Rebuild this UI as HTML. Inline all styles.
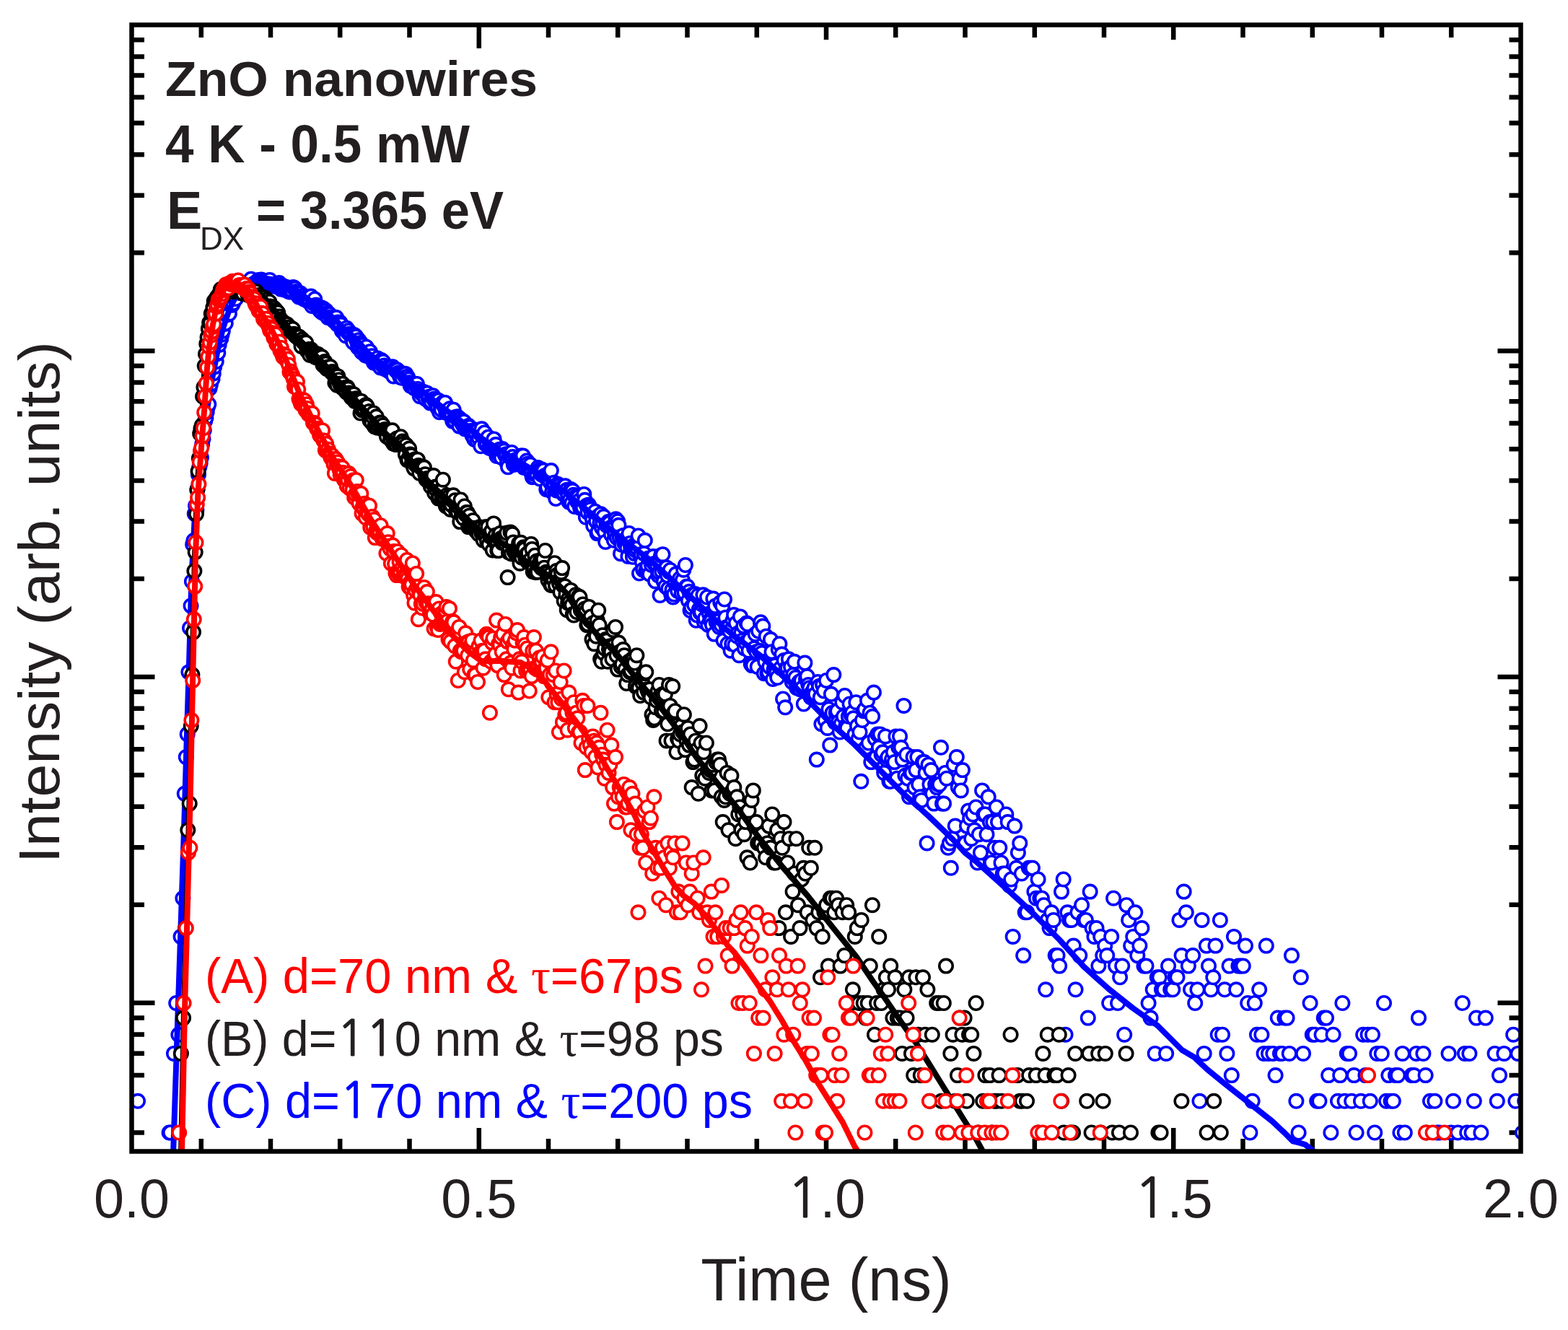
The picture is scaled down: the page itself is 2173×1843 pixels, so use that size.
<!DOCTYPE html><html><head><meta charset="utf-8"><title>ZnO nanowires decay</title><style>html,body{margin:0;padding:0;background:#fff;overflow:hidden}svg{display:block}</style></head><body><svg xmlns="http://www.w3.org/2000/svg" width="2173" height="1843" viewBox="0 0 2173 1843"><rect width="2173" height="1843" fill="#fff"/><path d="M278.8 1595.5V1578M278.8 34.5V52M375.0 1595.5V1578M375.0 34.5V52M471.2 1595.5V1578M471.2 34.5V52M567.5 1595.5V1578M567.5 34.5V52M663.8 1595.5V1563M663.8 34.5V67M760.0 1595.5V1578M760.0 34.5V52M856.2 1595.5V1578M856.2 34.5V52M952.5 1595.5V1578M952.5 34.5V52M1048.8 1595.5V1578M1048.8 34.5V52M1145.0 1595.5V1578M1145.0 34.5V55M1241.2 1595.5V1578M1241.2 34.5V52M1337.5 1595.5V1578M1337.5 34.5V52M1433.8 1595.5V1578M1433.8 34.5V52M1530.0 1595.5V1578M1530.0 34.5V52M1626.2 1595.5V1563M1626.2 34.5V55M1722.5 1595.5V1578M1722.5 34.5V52M1818.8 1595.5V1578M1818.8 34.5V52M1915.0 1595.5V1578M1915.0 34.5V52M2011.2 1595.5V1578M2011.2 34.5V52M182.5 486.3H214.5M2107.5 486.3H2075.5M182.5 350.3H200M2107.5 350.3H2091.5M182.5 270.8H200M2107.5 270.8H2091.5M182.5 214.3H200M2107.5 214.3H2091.5M182.5 170.6H200M2107.5 170.6H2091.5M182.5 134.8H200M2107.5 134.8H2091.5M182.5 104.6H200M2107.5 104.6H2091.5M182.5 78.4H200M2107.5 78.4H2091.5M182.5 55.3H200M2107.5 55.3H2091.5M182.5 938.0H214.5M2107.5 938.0H2075.5M182.5 802.0H200M2107.5 802.0H2091.5M182.5 722.5H200M2107.5 722.5H2091.5M182.5 666.0H200M2107.5 666.0H2091.5M182.5 622.3H200M2107.5 622.3H2091.5M182.5 586.5H200M2107.5 586.5H2091.5M182.5 556.3H200M2107.5 556.3H2091.5M182.5 530.1H200M2107.5 530.1H2091.5M182.5 507.0H200M2107.5 507.0H2091.5M182.5 1389.7H214.5M2107.5 1389.7H2075.5M182.5 1253.7H200M2107.5 1253.7H2091.5M182.5 1174.2H200M2107.5 1174.2H2091.5M182.5 1117.7H200M2107.5 1117.7H2091.5M182.5 1074.0H200M2107.5 1074.0H2091.5M182.5 1038.2H200M2107.5 1038.2H2091.5M182.5 1008.0H200M2107.5 1008.0H2091.5M182.5 981.8H200M2107.5 981.8H2091.5M182.5 958.7H200M2107.5 958.7H2091.5M182.5 1569.4H200M2107.5 1569.4H2091.5M182.5 1525.7H200M2107.5 1525.7H2091.5M182.5 1489.9H200M2107.5 1489.9H2091.5M182.5 1459.7H200M2107.5 1459.7H2091.5M182.5 1433.5H200M2107.5 1433.5H2091.5M182.5 1410.4H200M2107.5 1410.4H2091.5" stroke="#000" stroke-width="6.5" fill="none"/><clipPath id="pc"><rect x="182.5" y="34.5" width="1925" height="1561"/></clipPath><g clip-path="url(#pc)"><g fill="#fff" stroke="#0000ff" stroke-width="3.6"><circle cx="191.0" cy="1525.8" r="9.2"/><circle cx="234.6" cy="1569.5" r="9.2"/><circle cx="236.0" cy="1569.5" r="9.2"/><circle cx="241.0" cy="1459.9" r="9.2"/><circle cx="244.2" cy="1390.0" r="9.2"/><circle cx="247.4" cy="1433.7" r="9.2"/><circle cx="250.6" cy="1297.9" r="9.2"/><circle cx="253.4" cy="1244.7" r="9.2"/><circle cx="255.8" cy="1099.8" r="9.2"/><circle cx="257.8" cy="1049.1" r="9.2"/><circle cx="259.7" cy="1017.4" r="9.2"/><circle cx="261.4" cy="931.3" r="9.2"/><circle cx="263.0" cy="870.3" r="9.2"/><circle cx="264.5" cy="839.5" r="9.2"/><circle cx="265.9" cy="805.8" r="9.2"/><circle cx="267.2" cy="754.4" r="9.2"/><circle cx="268.5" cy="749.1" r="9.2"/><circle cx="269.8" cy="711.9" r="9.2"/><circle cx="271.1" cy="700.8" r="9.2"/><circle cx="272.4" cy="706.5" r="9.2"/><circle cx="273.7" cy="677.6" r="9.2"/><circle cx="275.0" cy="657.8" r="9.2"/><circle cx="276.3" cy="647.2" r="9.2"/><circle cx="277.6" cy="642.0" r="9.2"/><circle cx="278.9" cy="634.1" r="9.2"/><circle cx="280.2" cy="615.6" r="9.2"/><circle cx="281.5" cy="608.2" r="9.2"/><circle cx="282.8" cy="596.3" r="9.2"/><circle cx="284.1" cy="583.4" r="9.2"/><circle cx="285.4" cy="579.3" r="9.2"/><circle cx="286.7" cy="571.1" r="9.2"/><circle cx="288.0" cy="563.4" r="9.2"/><circle cx="289.3" cy="560.2" r="9.2"/><circle cx="290.6" cy="538.3" r="9.2"/><circle cx="291.9" cy="532.7" r="9.2"/><circle cx="293.2" cy="525.4" r="9.2"/><circle cx="294.5" cy="525.3" r="9.2"/><circle cx="295.8" cy="517.5" r="9.2"/><circle cx="297.1" cy="508.4" r="9.2"/><circle cx="298.4" cy="501.3" r="9.2"/><circle cx="299.7" cy="501.0" r="9.2"/><circle cx="301.0" cy="490.3" r="9.2"/><circle cx="302.3" cy="489.1" r="9.2"/><circle cx="303.6" cy="478.0" r="9.2"/><circle cx="304.9" cy="471.0" r="9.2"/><circle cx="306.2" cy="469.5" r="9.2"/><circle cx="307.5" cy="463.6" r="9.2"/><circle cx="308.8" cy="458.6" r="9.2"/><circle cx="310.1" cy="446.0" r="9.2"/><circle cx="311.4" cy="448.9" r="9.2"/><circle cx="312.7" cy="448.0" r="9.2"/><circle cx="314.0" cy="436.3" r="9.2"/><circle cx="315.3" cy="435.9" r="9.2"/><circle cx="316.6" cy="432.4" r="9.2"/><circle cx="317.9" cy="434.6" r="9.2"/><circle cx="319.2" cy="422.3" r="9.2"/><circle cx="320.5" cy="421.8" r="9.2"/><circle cx="321.8" cy="422.8" r="9.2"/><circle cx="323.1" cy="419.9" r="9.2"/><circle cx="324.4" cy="413.5" r="9.2"/><circle cx="325.7" cy="410.8" r="9.2"/><circle cx="327.0" cy="414.0" r="9.2"/><circle cx="328.3" cy="404.7" r="9.2"/><circle cx="329.6" cy="398.2" r="9.2"/><circle cx="330.9" cy="405.8" r="9.2"/><circle cx="332.2" cy="402.2" r="9.2"/><circle cx="333.5" cy="401.6" r="9.2"/><circle cx="334.8" cy="400.7" r="9.2"/><circle cx="336.1" cy="400.9" r="9.2"/><circle cx="337.4" cy="402.0" r="9.2"/><circle cx="338.7" cy="398.9" r="9.2"/><circle cx="340.0" cy="399.2" r="9.2"/><circle cx="341.3" cy="398.0" r="9.2"/><circle cx="342.6" cy="396.4" r="9.2"/><circle cx="343.9" cy="397.6" r="9.2"/><circle cx="345.2" cy="394.1" r="9.2"/><circle cx="346.5" cy="391.1" r="9.2"/><circle cx="347.8" cy="386.7" r="9.2"/><circle cx="349.1" cy="397.4" r="9.2"/><circle cx="350.4" cy="394.1" r="9.2"/><circle cx="351.7" cy="394.0" r="9.2"/><circle cx="353.0" cy="395.9" r="9.2"/><circle cx="354.3" cy="391.3" r="9.2"/><circle cx="355.6" cy="392.8" r="9.2"/><circle cx="356.9" cy="391.6" r="9.2"/><circle cx="358.2" cy="388.1" r="9.2"/><circle cx="359.5" cy="391.2" r="9.2"/><circle cx="360.8" cy="390.4" r="9.2"/><circle cx="362.1" cy="387.4" r="9.2"/><circle cx="363.4" cy="390.2" r="9.2"/><circle cx="364.7" cy="393.9" r="9.2"/><circle cx="366.0" cy="389.9" r="9.2"/><circle cx="367.3" cy="392.1" r="9.2"/><circle cx="368.6" cy="390.6" r="9.2"/><circle cx="369.9" cy="391.0" r="9.2"/><circle cx="371.2" cy="390.8" r="9.2"/><circle cx="372.5" cy="393.8" r="9.2"/><circle cx="373.8" cy="388.0" r="9.2"/><circle cx="375.1" cy="396.1" r="9.2"/><circle cx="376.4" cy="395.3" r="9.2"/><circle cx="377.7" cy="396.1" r="9.2"/><circle cx="379.0" cy="394.0" r="9.2"/><circle cx="380.3" cy="396.8" r="9.2"/><circle cx="381.6" cy="395.0" r="9.2"/><circle cx="382.9" cy="395.2" r="9.2"/><circle cx="384.2" cy="395.1" r="9.2"/><circle cx="385.5" cy="395.9" r="9.2"/><circle cx="386.8" cy="392.1" r="9.2"/><circle cx="388.1" cy="395.5" r="9.2"/><circle cx="389.4" cy="400.6" r="9.2"/><circle cx="390.7" cy="397.4" r="9.2"/><circle cx="392.0" cy="397.9" r="9.2"/><circle cx="393.3" cy="396.6" r="9.2"/><circle cx="394.6" cy="401.6" r="9.2"/><circle cx="395.9" cy="399.8" r="9.2"/><circle cx="397.2" cy="398.1" r="9.2"/><circle cx="398.5" cy="399.1" r="9.2"/><circle cx="399.8" cy="403.9" r="9.2"/><circle cx="401.1" cy="400.4" r="9.2"/><circle cx="402.4" cy="404.6" r="9.2"/><circle cx="403.7" cy="403.4" r="9.2"/><circle cx="405.0" cy="403.3" r="9.2"/><circle cx="406.3" cy="398.1" r="9.2"/><circle cx="407.6" cy="398.7" r="9.2"/><circle cx="408.9" cy="399.8" r="9.2"/><circle cx="410.2" cy="404.0" r="9.2"/><circle cx="411.5" cy="407.1" r="9.2"/><circle cx="412.8" cy="406.3" r="9.2"/><circle cx="414.1" cy="411.4" r="9.2"/><circle cx="415.4" cy="407.9" r="9.2"/><circle cx="416.7" cy="406.5" r="9.2"/><circle cx="418.0" cy="412.5" r="9.2"/><circle cx="419.3" cy="409.8" r="9.2"/><circle cx="420.6" cy="414.0" r="9.2"/><circle cx="421.9" cy="414.6" r="9.2"/><circle cx="423.2" cy="412.5" r="9.2"/><circle cx="424.5" cy="412.3" r="9.2"/><circle cx="425.8" cy="416.2" r="9.2"/><circle cx="427.1" cy="417.6" r="9.2"/><circle cx="428.4" cy="414.1" r="9.2"/><circle cx="429.7" cy="418.1" r="9.2"/><circle cx="431.0" cy="410.6" r="9.2"/><circle cx="432.3" cy="424.0" r="9.2"/><circle cx="433.6" cy="419.7" r="9.2"/><circle cx="434.9" cy="419.5" r="9.2"/><circle cx="436.2" cy="414.5" r="9.2"/><circle cx="437.5" cy="422.7" r="9.2"/><circle cx="438.8" cy="422.8" r="9.2"/><circle cx="440.1" cy="424.2" r="9.2"/><circle cx="441.4" cy="425.4" r="9.2"/><circle cx="442.7" cy="429.4" r="9.2"/><circle cx="444.0" cy="431.3" r="9.2"/><circle cx="445.3" cy="426.3" r="9.2"/><circle cx="446.6" cy="433.3" r="9.2"/><circle cx="447.9" cy="427.5" r="9.2"/><circle cx="449.2" cy="428.6" r="9.2"/><circle cx="450.5" cy="435.1" r="9.2"/><circle cx="451.8" cy="430.4" r="9.2"/><circle cx="453.1" cy="433.7" r="9.2"/><circle cx="454.4" cy="439.9" r="9.2"/><circle cx="455.7" cy="435.0" r="9.2"/><circle cx="457.0" cy="435.7" r="9.2"/><circle cx="458.3" cy="439.6" r="9.2"/><circle cx="459.6" cy="440.8" r="9.2"/><circle cx="460.9" cy="441.8" r="9.2"/><circle cx="462.2" cy="444.3" r="9.2"/><circle cx="463.5" cy="439.9" r="9.2"/><circle cx="464.8" cy="444.5" r="9.2"/><circle cx="466.1" cy="440.1" r="9.2"/><circle cx="467.4" cy="449.4" r="9.2"/><circle cx="468.7" cy="446.5" r="9.2"/><circle cx="470.0" cy="447.8" r="9.2"/><circle cx="471.3" cy="446.8" r="9.2"/><circle cx="472.6" cy="449.9" r="9.2"/><circle cx="473.9" cy="458.7" r="9.2"/><circle cx="475.2" cy="458.3" r="9.2"/><circle cx="476.5" cy="456.4" r="9.2"/><circle cx="477.8" cy="456.9" r="9.2"/><circle cx="479.1" cy="465.2" r="9.2"/><circle cx="480.4" cy="454.7" r="9.2"/><circle cx="481.7" cy="460.3" r="9.2"/><circle cx="483.0" cy="458.3" r="9.2"/><circle cx="484.3" cy="462.8" r="9.2"/><circle cx="485.6" cy="463.8" r="9.2"/><circle cx="486.9" cy="463.0" r="9.2"/><circle cx="488.2" cy="472.1" r="9.2"/><circle cx="489.5" cy="474.4" r="9.2"/><circle cx="490.8" cy="463.9" r="9.2"/><circle cx="492.1" cy="467.5" r="9.2"/><circle cx="493.4" cy="466.3" r="9.2"/><circle cx="494.7" cy="473.0" r="9.2"/><circle cx="496.0" cy="481.4" r="9.2"/><circle cx="497.3" cy="471.2" r="9.2"/><circle cx="498.6" cy="479.9" r="9.2"/><circle cx="499.9" cy="475.1" r="9.2"/><circle cx="501.2" cy="487.9" r="9.2"/><circle cx="502.5" cy="478.1" r="9.2"/><circle cx="503.8" cy="484.9" r="9.2"/><circle cx="505.1" cy="485.6" r="9.2"/><circle cx="506.4" cy="492.4" r="9.2"/><circle cx="507.7" cy="480.7" r="9.2"/><circle cx="509.0" cy="489.9" r="9.2"/><circle cx="510.3" cy="493.9" r="9.2"/><circle cx="511.6" cy="492.9" r="9.2"/><circle cx="512.9" cy="487.2" r="9.2"/><circle cx="514.2" cy="493.7" r="9.2"/><circle cx="515.5" cy="493.3" r="9.2"/><circle cx="516.8" cy="499.6" r="9.2"/><circle cx="518.1" cy="502.7" r="9.2"/><circle cx="519.4" cy="501.5" r="9.2"/><circle cx="520.7" cy="498.6" r="9.2"/><circle cx="522.0" cy="499.5" r="9.2"/><circle cx="523.3" cy="496.5" r="9.2"/><circle cx="524.6" cy="502.4" r="9.2"/><circle cx="525.9" cy="504.5" r="9.2"/><circle cx="527.2" cy="509.5" r="9.2"/><circle cx="528.5" cy="499.1" r="9.2"/><circle cx="529.8" cy="506.2" r="9.2"/><circle cx="531.1" cy="501.2" r="9.2"/><circle cx="532.4" cy="506.6" r="9.2"/><circle cx="533.7" cy="511.5" r="9.2"/><circle cx="535.0" cy="511.4" r="9.2"/><circle cx="536.3" cy="510.8" r="9.2"/><circle cx="537.6" cy="508.7" r="9.2"/><circle cx="538.9" cy="514.5" r="9.2"/><circle cx="540.2" cy="511.6" r="9.2"/><circle cx="541.5" cy="508.9" r="9.2"/><circle cx="542.8" cy="512.7" r="9.2"/><circle cx="544.1" cy="508.2" r="9.2"/><circle cx="545.4" cy="521.4" r="9.2"/><circle cx="546.7" cy="510.7" r="9.2"/><circle cx="548.0" cy="512.8" r="9.2"/><circle cx="549.3" cy="513.0" r="9.2"/><circle cx="550.6" cy="512.6" r="9.2"/><circle cx="551.9" cy="516.7" r="9.2"/><circle cx="553.2" cy="519.0" r="9.2"/><circle cx="554.5" cy="522.6" r="9.2"/><circle cx="555.8" cy="518.1" r="9.2"/><circle cx="557.1" cy="523.7" r="9.2"/><circle cx="558.4" cy="517.5" r="9.2"/><circle cx="559.7" cy="517.7" r="9.2"/><circle cx="561.0" cy="521.4" r="9.2"/><circle cx="562.3" cy="518.1" r="9.2"/><circle cx="563.6" cy="521.9" r="9.2"/><circle cx="564.9" cy="522.3" r="9.2"/><circle cx="566.2" cy="525.7" r="9.2"/><circle cx="567.5" cy="530.3" r="9.2"/><circle cx="568.8" cy="534.6" r="9.2"/><circle cx="570.1" cy="531.8" r="9.2"/><circle cx="571.4" cy="531.4" r="9.2"/><circle cx="572.7" cy="532.3" r="9.2"/><circle cx="574.0" cy="537.9" r="9.2"/><circle cx="575.3" cy="531.9" r="9.2"/><circle cx="576.6" cy="535.1" r="9.2"/><circle cx="577.9" cy="532.0" r="9.2"/><circle cx="579.2" cy="538.9" r="9.2"/><circle cx="580.5" cy="542.5" r="9.2"/><circle cx="581.8" cy="549.2" r="9.2"/><circle cx="583.1" cy="544.5" r="9.2"/><circle cx="584.4" cy="545.3" r="9.2"/><circle cx="585.7" cy="543.1" r="9.2"/><circle cx="587.0" cy="542.9" r="9.2"/><circle cx="588.3" cy="544.4" r="9.2"/><circle cx="589.6" cy="552.6" r="9.2"/><circle cx="590.9" cy="544.5" r="9.2"/><circle cx="592.2" cy="545.0" r="9.2"/><circle cx="593.5" cy="551.4" r="9.2"/><circle cx="594.8" cy="549.8" r="9.2"/><circle cx="596.1" cy="558.5" r="9.2"/><circle cx="597.4" cy="556.5" r="9.2"/><circle cx="598.7" cy="550.5" r="9.2"/><circle cx="600.0" cy="548.3" r="9.2"/><circle cx="601.3" cy="552.8" r="9.2"/><circle cx="602.6" cy="555.9" r="9.2"/><circle cx="603.9" cy="555.9" r="9.2"/><circle cx="605.2" cy="553.7" r="9.2"/><circle cx="606.5" cy="565.8" r="9.2"/><circle cx="607.8" cy="554.9" r="9.2"/><circle cx="609.1" cy="571.2" r="9.2"/><circle cx="610.4" cy="563.0" r="9.2"/><circle cx="611.7" cy="567.9" r="9.2"/><circle cx="613.0" cy="558.5" r="9.2"/><circle cx="614.3" cy="557.7" r="9.2"/><circle cx="615.6" cy="563.1" r="9.2"/><circle cx="616.9" cy="557.9" r="9.2"/><circle cx="618.2" cy="571.8" r="9.2"/><circle cx="619.5" cy="569.2" r="9.2"/><circle cx="620.8" cy="573.0" r="9.2"/><circle cx="622.1" cy="571.2" r="9.2"/><circle cx="623.4" cy="566.3" r="9.2"/><circle cx="624.7" cy="575.6" r="9.2"/><circle cx="626.0" cy="574.3" r="9.2"/><circle cx="627.3" cy="583.6" r="9.2"/><circle cx="628.6" cy="567.7" r="9.2"/><circle cx="629.9" cy="582.9" r="9.2"/><circle cx="631.2" cy="577.9" r="9.2"/><circle cx="632.5" cy="578.4" r="9.2"/><circle cx="633.8" cy="577.2" r="9.2"/><circle cx="635.1" cy="579.3" r="9.2"/><circle cx="636.4" cy="590.6" r="9.2"/><circle cx="637.7" cy="580.6" r="9.2"/><circle cx="639.0" cy="584.7" r="9.2"/><circle cx="640.3" cy="583.1" r="9.2"/><circle cx="641.6" cy="589.1" r="9.2"/><circle cx="642.9" cy="584.3" r="9.2"/><circle cx="644.2" cy="594.1" r="9.2"/><circle cx="645.5" cy="594.8" r="9.2"/><circle cx="646.8" cy="592.9" r="9.2"/><circle cx="648.1" cy="594.6" r="9.2"/><circle cx="649.4" cy="590.1" r="9.2"/><circle cx="650.7" cy="592.0" r="9.2"/><circle cx="652.0" cy="596.9" r="9.2"/><circle cx="653.3" cy="597.8" r="9.2"/><circle cx="654.6" cy="603.7" r="9.2"/><circle cx="655.9" cy="599.2" r="9.2"/><circle cx="657.2" cy="608.7" r="9.2"/><circle cx="658.5" cy="595.4" r="9.2"/><circle cx="659.8" cy="601.5" r="9.2"/><circle cx="661.1" cy="610.5" r="9.2"/><circle cx="662.4" cy="596.1" r="9.2"/><circle cx="663.7" cy="607.3" r="9.2"/><circle cx="665.0" cy="600.4" r="9.2"/><circle cx="666.3" cy="618.3" r="9.2"/><circle cx="667.6" cy="594.3" r="9.2"/><circle cx="668.9" cy="603.4" r="9.2"/><circle cx="670.2" cy="602.0" r="9.2"/><circle cx="671.5" cy="599.5" r="9.2"/><circle cx="672.8" cy="615.2" r="9.2"/><circle cx="674.1" cy="613.0" r="9.2"/><circle cx="675.4" cy="607.3" r="9.2"/><circle cx="676.7" cy="605.7" r="9.2"/><circle cx="678.0" cy="620.7" r="9.2"/><circle cx="679.3" cy="619.2" r="9.2"/><circle cx="680.6" cy="621.5" r="9.2"/><circle cx="681.9" cy="618.3" r="9.2"/><circle cx="683.2" cy="616.0" r="9.2"/><circle cx="684.5" cy="608.4" r="9.2"/><circle cx="685.8" cy="620.1" r="9.2"/><circle cx="687.1" cy="616.1" r="9.2"/><circle cx="688.4" cy="631.9" r="9.2"/><circle cx="689.7" cy="628.1" r="9.2"/><circle cx="691.0" cy="624.4" r="9.2"/><circle cx="692.3" cy="622.8" r="9.2"/><circle cx="693.6" cy="626.8" r="9.2"/><circle cx="694.9" cy="633.9" r="9.2"/><circle cx="696.2" cy="622.0" r="9.2"/><circle cx="697.5" cy="626.2" r="9.2"/><circle cx="698.8" cy="624.6" r="9.2"/><circle cx="700.1" cy="630.8" r="9.2"/><circle cx="701.4" cy="629.2" r="9.2"/><circle cx="702.7" cy="642.2" r="9.2"/><circle cx="704.0" cy="647.3" r="9.2"/><circle cx="705.3" cy="632.1" r="9.2"/><circle cx="706.6" cy="630.7" r="9.2"/><circle cx="707.9" cy="628.5" r="9.2"/><circle cx="709.2" cy="627.0" r="9.2"/><circle cx="710.5" cy="633.1" r="9.2"/><circle cx="711.8" cy="643.9" r="9.2"/><circle cx="713.1" cy="641.8" r="9.2"/><circle cx="714.4" cy="637.3" r="9.2"/><circle cx="715.7" cy="638.2" r="9.2"/><circle cx="717.0" cy="642.3" r="9.2"/><circle cx="718.3" cy="642.8" r="9.2"/><circle cx="719.6" cy="641.6" r="9.2"/><circle cx="720.9" cy="639.7" r="9.2"/><circle cx="722.2" cy="631.5" r="9.2"/><circle cx="723.5" cy="644.7" r="9.2"/><circle cx="724.8" cy="631.6" r="9.2"/><circle cx="726.1" cy="648.0" r="9.2"/><circle cx="727.4" cy="646.0" r="9.2"/><circle cx="728.7" cy="642.3" r="9.2"/><circle cx="730.0" cy="638.6" r="9.2"/><circle cx="731.3" cy="642.7" r="9.2"/><circle cx="732.6" cy="648.8" r="9.2"/><circle cx="733.9" cy="647.5" r="9.2"/><circle cx="735.2" cy="644.0" r="9.2"/><circle cx="736.5" cy="656.0" r="9.2"/><circle cx="737.8" cy="661.2" r="9.2"/><circle cx="739.1" cy="660.5" r="9.2"/><circle cx="740.4" cy="656.7" r="9.2"/><circle cx="741.7" cy="656.6" r="9.2"/><circle cx="743.0" cy="656.2" r="9.2"/><circle cx="744.3" cy="658.1" r="9.2"/><circle cx="745.6" cy="648.1" r="9.2"/><circle cx="746.9" cy="651.5" r="9.2"/><circle cx="748.2" cy="663.5" r="9.2"/><circle cx="749.5" cy="656.6" r="9.2"/><circle cx="750.8" cy="650.6" r="9.2"/><circle cx="752.1" cy="658.4" r="9.2"/><circle cx="753.4" cy="652.0" r="9.2"/><circle cx="754.7" cy="659.3" r="9.2"/><circle cx="756.0" cy="659.5" r="9.2"/><circle cx="757.3" cy="678.2" r="9.2"/><circle cx="758.6" cy="675.4" r="9.2"/><circle cx="759.9" cy="660.2" r="9.2"/><circle cx="761.2" cy="655.3" r="9.2"/><circle cx="762.5" cy="668.5" r="9.2"/><circle cx="763.8" cy="652.1" r="9.2"/><circle cx="765.1" cy="681.8" r="9.2"/><circle cx="766.4" cy="670.4" r="9.2"/><circle cx="767.7" cy="668.8" r="9.2"/><circle cx="769.0" cy="682.3" r="9.2"/><circle cx="770.3" cy="691.0" r="9.2"/><circle cx="771.6" cy="679.7" r="9.2"/><circle cx="772.9" cy="670.8" r="9.2"/><circle cx="774.2" cy="677.9" r="9.2"/><circle cx="775.5" cy="673.1" r="9.2"/><circle cx="776.8" cy="677.9" r="9.2"/><circle cx="778.1" cy="675.9" r="9.2"/><circle cx="779.4" cy="680.0" r="9.2"/><circle cx="780.7" cy="684.6" r="9.2"/><circle cx="782.0" cy="684.1" r="9.2"/><circle cx="783.3" cy="673.3" r="9.2"/><circle cx="784.6" cy="679.8" r="9.2"/><circle cx="785.9" cy="678.8" r="9.2"/><circle cx="787.2" cy="687.1" r="9.2"/><circle cx="788.5" cy="695.8" r="9.2"/><circle cx="789.8" cy="692.2" r="9.2"/><circle cx="791.1" cy="678.1" r="9.2"/><circle cx="792.4" cy="697.1" r="9.2"/><circle cx="793.7" cy="680.1" r="9.2"/><circle cx="795.0" cy="685.7" r="9.2"/><circle cx="796.3" cy="701.9" r="9.2"/><circle cx="797.6" cy="688.6" r="9.2"/><circle cx="798.9" cy="692.7" r="9.2"/><circle cx="800.2" cy="695.5" r="9.2"/><circle cx="801.5" cy="688.8" r="9.2"/><circle cx="802.8" cy="693.8" r="9.2"/><circle cx="804.1" cy="703.9" r="9.2"/><circle cx="805.4" cy="702.7" r="9.2"/><circle cx="806.7" cy="702.5" r="9.2"/><circle cx="808.0" cy="703.2" r="9.2"/><circle cx="809.3" cy="684.9" r="9.2"/><circle cx="810.6" cy="692.8" r="9.2"/><circle cx="811.9" cy="716.8" r="9.2"/><circle cx="813.2" cy="700.4" r="9.2"/><circle cx="814.5" cy="710.0" r="9.2"/><circle cx="815.8" cy="699.4" r="9.2"/><circle cx="817.1" cy="702.4" r="9.2"/><circle cx="818.4" cy="705.8" r="9.2"/><circle cx="819.7" cy="713.8" r="9.2"/><circle cx="821.0" cy="720.1" r="9.2"/><circle cx="822.3" cy="728.7" r="9.2"/><circle cx="823.6" cy="711.5" r="9.2"/><circle cx="824.9" cy="708.7" r="9.2"/><circle cx="826.2" cy="722.5" r="9.2"/><circle cx="827.5" cy="739.1" r="9.2"/><circle cx="828.8" cy="737.1" r="9.2"/><circle cx="830.1" cy="714.4" r="9.2"/><circle cx="831.4" cy="725.0" r="9.2"/><circle cx="832.7" cy="712.3" r="9.2"/><circle cx="834.0" cy="731.4" r="9.2"/><circle cx="835.3" cy="724.5" r="9.2"/><circle cx="836.6" cy="715.8" r="9.2"/><circle cx="837.9" cy="737.1" r="9.2"/><circle cx="839.2" cy="751.0" r="9.2"/><circle cx="840.5" cy="728.0" r="9.2"/><circle cx="841.8" cy="727.1" r="9.2"/><circle cx="843.1" cy="723.0" r="9.2"/><circle cx="844.4" cy="724.7" r="9.2"/><circle cx="845.7" cy="731.5" r="9.2"/><circle cx="847.0" cy="740.9" r="9.2"/><circle cx="848.3" cy="730.2" r="9.2"/><circle cx="849.6" cy="733.2" r="9.2"/><circle cx="850.9" cy="748.8" r="9.2"/><circle cx="852.2" cy="740.5" r="9.2"/><circle cx="853.5" cy="719.3" r="9.2"/><circle cx="854.8" cy="745.1" r="9.2"/><circle cx="856.1" cy="722.2" r="9.2"/><circle cx="857.4" cy="727.8" r="9.2"/><circle cx="858.7" cy="744.3" r="9.2"/><circle cx="860.0" cy="767.2" r="9.2"/><circle cx="861.3" cy="754.7" r="9.2"/><circle cx="862.6" cy="743.6" r="9.2"/><circle cx="863.9" cy="741.9" r="9.2"/><circle cx="865.2" cy="752.7" r="9.2"/><circle cx="866.5" cy="749.0" r="9.2"/><circle cx="867.8" cy="746.6" r="9.2"/><circle cx="869.1" cy="759.0" r="9.2"/><circle cx="870.4" cy="770.9" r="9.2"/><circle cx="871.7" cy="739.0" r="9.2"/><circle cx="873.0" cy="752.9" r="9.2"/><circle cx="874.3" cy="761.0" r="9.2"/><circle cx="875.6" cy="758.5" r="9.2"/><circle cx="876.9" cy="771.8" r="9.2"/><circle cx="878.2" cy="756.1" r="9.2"/><circle cx="879.5" cy="767.1" r="9.2"/><circle cx="880.8" cy="762.4" r="9.2"/><circle cx="882.1" cy="757.1" r="9.2"/><circle cx="883.4" cy="760.0" r="9.2"/><circle cx="884.7" cy="742.5" r="9.2"/><circle cx="886.0" cy="794.5" r="9.2"/><circle cx="887.3" cy="770.2" r="9.2"/><circle cx="888.6" cy="768.1" r="9.2"/><circle cx="889.9" cy="779.3" r="9.2"/><circle cx="891.2" cy="789.6" r="9.2"/><circle cx="892.5" cy="767.1" r="9.2"/><circle cx="893.8" cy="748.8" r="9.2"/><circle cx="895.1" cy="791.7" r="9.2"/><circle cx="896.4" cy="788.6" r="9.2"/><circle cx="897.7" cy="784.0" r="9.2"/><circle cx="899.0" cy="773.5" r="9.2"/><circle cx="900.3" cy="795.7" r="9.2"/><circle cx="901.6" cy="777.5" r="9.2"/><circle cx="902.9" cy="783.0" r="9.2"/><circle cx="904.2" cy="777.8" r="9.2"/><circle cx="905.5" cy="771.1" r="9.2"/><circle cx="906.8" cy="781.1" r="9.2"/><circle cx="908.1" cy="805.4" r="9.2"/><circle cx="909.4" cy="781.3" r="9.2"/><circle cx="910.7" cy="783.0" r="9.2"/><circle cx="912.0" cy="797.1" r="9.2"/><circle cx="913.3" cy="793.1" r="9.2"/><circle cx="914.6" cy="825.0" r="9.2"/><circle cx="915.9" cy="769.6" r="9.2"/><circle cx="917.2" cy="791.7" r="9.2"/><circle cx="918.5" cy="768.2" r="9.2"/><circle cx="919.8" cy="805.9" r="9.2"/><circle cx="921.1" cy="788.7" r="9.2"/><circle cx="922.4" cy="812.6" r="9.2"/><circle cx="923.7" cy="786.4" r="9.2"/><circle cx="925.0" cy="797.5" r="9.2"/><circle cx="926.3" cy="815.9" r="9.2"/><circle cx="927.6" cy="792.5" r="9.2"/><circle cx="928.9" cy="790.0" r="9.2"/><circle cx="930.2" cy="824.1" r="9.2"/><circle cx="931.5" cy="817.3" r="9.2"/><circle cx="932.8" cy="827.5" r="9.2"/><circle cx="934.1" cy="823.5" r="9.2"/><circle cx="935.4" cy="808.1" r="9.2"/><circle cx="936.7" cy="795.6" r="9.2"/><circle cx="938.0" cy="813.0" r="9.2"/><circle cx="939.3" cy="819.0" r="9.2"/><circle cx="940.6" cy="810.3" r="9.2"/><circle cx="942.0" cy="802.0" r="9.2"/><circle cx="943.3" cy="810.5" r="9.2"/><circle cx="944.6" cy="822.3" r="9.2"/><circle cx="945.9" cy="804.0" r="9.2"/><circle cx="947.3" cy="789.7" r="9.2"/><circle cx="948.6" cy="821.6" r="9.2"/><circle cx="949.9" cy="783.0" r="9.2"/><circle cx="951.3" cy="812.7" r="9.2"/><circle cx="952.6" cy="812.8" r="9.2"/><circle cx="953.9" cy="832.3" r="9.2"/><circle cx="955.3" cy="819.8" r="9.2"/><circle cx="956.6" cy="845.9" r="9.2"/><circle cx="958.0" cy="841.4" r="9.2"/><circle cx="959.3" cy="824.1" r="9.2"/><circle cx="960.7" cy="826.2" r="9.2"/><circle cx="962.1" cy="838.2" r="9.2"/><circle cx="963.4" cy="823.1" r="9.2"/><circle cx="964.8" cy="859.8" r="9.2"/><circle cx="966.2" cy="852.5" r="9.2"/><circle cx="967.5" cy="825.3" r="9.2"/><circle cx="968.9" cy="844.3" r="9.2"/><circle cx="970.3" cy="849.0" r="9.2"/><circle cx="971.6" cy="847.9" r="9.2"/><circle cx="973.0" cy="837.5" r="9.2"/><circle cx="974.4" cy="824.3" r="9.2"/><circle cx="975.8" cy="861.7" r="9.2"/><circle cx="977.2" cy="856.7" r="9.2"/><circle cx="978.6" cy="838.7" r="9.2"/><circle cx="980.0" cy="827.5" r="9.2"/><circle cx="981.4" cy="865.9" r="9.2"/><circle cx="982.8" cy="850.6" r="9.2"/><circle cx="984.2" cy="859.4" r="9.2"/><circle cx="985.6" cy="860.8" r="9.2"/><circle cx="987.0" cy="866.1" r="9.2"/><circle cx="988.4" cy="829.6" r="9.2"/><circle cx="989.8" cy="878.6" r="9.2"/><circle cx="991.2" cy="839.8" r="9.2"/><circle cx="992.6" cy="862.2" r="9.2"/><circle cx="994.0" cy="862.2" r="9.2"/><circle cx="995.4" cy="860.9" r="9.2"/><circle cx="996.9" cy="868.9" r="9.2"/><circle cx="998.3" cy="835.1" r="9.2"/><circle cx="999.7" cy="866.2" r="9.2"/><circle cx="1001.2" cy="839.7" r="9.2"/><circle cx="1002.6" cy="887.6" r="9.2"/><circle cx="1004.0" cy="830.5" r="9.2"/><circle cx="1005.5" cy="855.7" r="9.2"/><circle cx="1006.9" cy="868.9" r="9.2"/><circle cx="1008.4" cy="892.2" r="9.2"/><circle cx="1009.8" cy="868.9" r="9.2"/><circle cx="1011.3" cy="874.5" r="9.2"/><circle cx="1012.7" cy="901.7" r="9.2"/><circle cx="1014.2" cy="892.2" r="9.2"/><circle cx="1015.6" cy="859.6" r="9.2"/><circle cx="1017.1" cy="851.9" r="9.2"/><circle cx="1018.5" cy="893.7" r="9.2"/><circle cx="1020.0" cy="863.5" r="9.2"/><circle cx="1021.5" cy="881.7" r="9.2"/><circle cx="1022.9" cy="877.3" r="9.2"/><circle cx="1024.4" cy="908.2" r="9.2"/><circle cx="1025.9" cy="854.4" r="9.2"/><circle cx="1027.3" cy="877.3" r="9.2"/><circle cx="1028.8" cy="887.6" r="9.2"/><circle cx="1030.3" cy="867.6" r="9.2"/><circle cx="1031.8" cy="898.5" r="9.2"/><circle cx="1033.3" cy="890.6" r="9.2"/><circle cx="1034.7" cy="863.5" r="9.2"/><circle cx="1036.2" cy="864.9" r="9.2"/><circle cx="1037.7" cy="901.7" r="9.2"/><circle cx="1039.2" cy="886.1" r="9.2"/><circle cx="1040.7" cy="920.3" r="9.2"/><circle cx="1042.2" cy="922.1" r="9.2"/><circle cx="1043.7" cy="922.1" r="9.2"/><circle cx="1045.2" cy="898.5" r="9.2"/><circle cx="1046.7" cy="878.8" r="9.2"/><circle cx="1048.2" cy="903.3" r="9.2"/><circle cx="1049.7" cy="923.9" r="9.2"/><circle cx="1051.2" cy="874.5" r="9.2"/><circle cx="1052.7" cy="901.7" r="9.2"/><circle cx="1054.2" cy="862.2" r="9.2"/><circle cx="1055.8" cy="904.9" r="9.2"/><circle cx="1057.3" cy="867.6" r="9.2"/><circle cx="1058.8" cy="933.2" r="9.2"/><circle cx="1060.3" cy="916.8" r="9.2"/><circle cx="1061.8" cy="881.7" r="9.2"/><circle cx="1063.4" cy="933.2" r="9.2"/><circle cx="1064.9" cy="931.3" r="9.2"/><circle cx="1066.4" cy="923.9" r="9.2"/><circle cx="1068.0" cy="886.1" r="9.2"/><circle cx="1069.5" cy="903.3" r="9.2"/><circle cx="1071.1" cy="941.0" r="9.2"/><circle cx="1072.6" cy="927.6" r="9.2"/><circle cx="1074.2" cy="922.1" r="9.2"/><circle cx="1075.7" cy="933.2" r="9.2"/><circle cx="1077.3" cy="939.0" r="9.2"/><circle cx="1078.8" cy="900.1" r="9.2"/><circle cx="1080.4" cy="892.2" r="9.2"/><circle cx="1081.9" cy="925.7" r="9.2"/><circle cx="1083.5" cy="906.6" r="9.2"/><circle cx="1085.1" cy="968.5" r="9.2"/><circle cx="1086.6" cy="915.1" r="9.2"/><circle cx="1088.2" cy="980.3" r="9.2"/><circle cx="1089.8" cy="925.7" r="9.2"/><circle cx="1091.4" cy="925.7" r="9.2"/><circle cx="1092.9" cy="913.3" r="9.2"/><circle cx="1094.5" cy="935.1" r="9.2"/><circle cx="1096.1" cy="923.9" r="9.2"/><circle cx="1097.7" cy="945.0" r="9.2"/><circle cx="1099.3" cy="935.1" r="9.2"/><circle cx="1100.9" cy="916.8" r="9.2"/><circle cx="1102.5" cy="939.0" r="9.2"/><circle cx="1104.1" cy="953.2" r="9.2"/><circle cx="1105.7" cy="951.1" r="9.2"/><circle cx="1107.3" cy="945.0" r="9.2"/><circle cx="1108.9" cy="955.3" r="9.2"/><circle cx="1110.5" cy="943.0" r="9.2"/><circle cx="1112.1" cy="953.2" r="9.2"/><circle cx="1113.8" cy="975.5" r="9.2"/><circle cx="1115.4" cy="918.6" r="9.2"/><circle cx="1117.0" cy="941.0" r="9.2"/><circle cx="1118.6" cy="937.1" r="9.2"/><circle cx="1120.3" cy="949.0" r="9.2"/><circle cx="1121.9" cy="953.2" r="9.2"/><circle cx="1123.5" cy="966.3" r="9.2"/><circle cx="1125.2" cy="959.6" r="9.2"/><circle cx="1126.8" cy="961.8" r="9.2"/><circle cx="1128.5" cy="953.2" r="9.2"/><circle cx="1130.1" cy="961.8" r="9.2"/><circle cx="1131.8" cy="1052.6" r="9.2"/><circle cx="1133.4" cy="945.0" r="9.2"/><circle cx="1135.1" cy="951.1" r="9.2"/><circle cx="1136.8" cy="966.3" r="9.2"/><circle cx="1138.4" cy="1003.3" r="9.2"/><circle cx="1140.1" cy="949.0" r="9.2"/><circle cx="1141.8" cy="957.5" r="9.2"/><circle cx="1143.5" cy="998.0" r="9.2"/><circle cx="1145.1" cy="943.0" r="9.2"/><circle cx="1146.8" cy="1008.9" r="9.2"/><circle cx="1148.5" cy="982.7" r="9.2"/><circle cx="1150.2" cy="1032.6" r="9.2"/><circle cx="1151.9" cy="961.8" r="9.2"/><circle cx="1153.6" cy="987.7" r="9.2"/><circle cx="1155.3" cy="935.1" r="9.2"/><circle cx="1157.0" cy="1000.6" r="9.2"/><circle cx="1158.7" cy="987.7" r="9.2"/><circle cx="1160.4" cy="985.2" r="9.2"/><circle cx="1162.1" cy="1000.6" r="9.2"/><circle cx="1163.8" cy="1014.5" r="9.2"/><circle cx="1165.5" cy="1003.3" r="9.2"/><circle cx="1167.3" cy="973.2" r="9.2"/><circle cx="1169.0" cy="992.8" r="9.2"/><circle cx="1170.7" cy="964.0" r="9.2"/><circle cx="1172.4" cy="1006.1" r="9.2"/><circle cx="1174.1" cy="1008.9" r="9.2"/><circle cx="1175.9" cy="992.8" r="9.2"/><circle cx="1177.6" cy="975.5" r="9.2"/><circle cx="1179.3" cy="990.2" r="9.2"/><circle cx="1181.1" cy="987.7" r="9.2"/><circle cx="1182.8" cy="995.3" r="9.2"/><circle cx="1184.5" cy="1017.4" r="9.2"/><circle cx="1186.3" cy="973.2" r="9.2"/><circle cx="1188.0" cy="1006.1" r="9.2"/><circle cx="1189.8" cy="1023.4" r="9.2"/><circle cx="1191.5" cy="1014.5" r="9.2"/><circle cx="1193.3" cy="1082.8" r="9.2"/><circle cx="1195.0" cy="998.0" r="9.2"/><circle cx="1196.8" cy="985.2" r="9.2"/><circle cx="1198.5" cy="982.7" r="9.2"/><circle cx="1200.3" cy="1035.8" r="9.2"/><circle cx="1202.0" cy="970.8" r="9.2"/><circle cx="1203.8" cy="1029.5" r="9.2"/><circle cx="1205.6" cy="987.7" r="9.2"/><circle cx="1207.3" cy="1056.1" r="9.2"/><circle cx="1209.1" cy="992.8" r="9.2"/><circle cx="1210.9" cy="959.6" r="9.2"/><circle cx="1212.7" cy="1023.4" r="9.2"/><circle cx="1214.5" cy="1049.1" r="9.2"/><circle cx="1216.2" cy="1017.4" r="9.2"/><circle cx="1218.0" cy="1035.8" r="9.2"/><circle cx="1219.8" cy="1017.4" r="9.2"/><circle cx="1221.6" cy="1045.7" r="9.2"/><circle cx="1223.4" cy="1042.3" r="9.2"/><circle cx="1225.2" cy="1070.9" r="9.2"/><circle cx="1227.0" cy="1020.4" r="9.2"/><circle cx="1228.8" cy="1052.6" r="9.2"/><circle cx="1230.6" cy="1049.1" r="9.2"/><circle cx="1232.4" cy="1082.8" r="9.2"/><circle cx="1234.2" cy="1082.8" r="9.2"/><circle cx="1236.0" cy="1052.6" r="9.2"/><circle cx="1237.9" cy="1042.3" r="9.2"/><circle cx="1239.7" cy="1056.1" r="9.2"/><circle cx="1241.5" cy="1020.4" r="9.2"/><circle cx="1243.3" cy="1078.7" r="9.2"/><circle cx="1245.2" cy="1035.8" r="9.2"/><circle cx="1247.0" cy="1020.4" r="9.2"/><circle cx="1248.8" cy="1035.8" r="9.2"/><circle cx="1250.7" cy="1052.6" r="9.2"/><circle cx="1252.5" cy="977.9" r="9.2"/><circle cx="1254.4" cy="1074.8" r="9.2"/><circle cx="1256.3" cy="1045.7" r="9.2"/><circle cx="1258.1" cy="1078.7" r="9.2"/><circle cx="1260.0" cy="1104.3" r="9.2"/><circle cx="1261.9" cy="1070.9" r="9.2"/><circle cx="1263.7" cy="1070.9" r="9.2"/><circle cx="1265.6" cy="1049.1" r="9.2"/><circle cx="1267.5" cy="1091.1" r="9.2"/><circle cx="1269.4" cy="1067.1" r="9.2"/><circle cx="1271.3" cy="1049.1" r="9.2"/><circle cx="1273.2" cy="1086.9" r="9.2"/><circle cx="1275.1" cy="1104.3" r="9.2"/><circle cx="1277.0" cy="1108.9" r="9.2"/><circle cx="1278.9" cy="1056.1" r="9.2"/><circle cx="1280.8" cy="1056.1" r="9.2"/><circle cx="1282.7" cy="1070.9" r="9.2"/><circle cx="1284.6" cy="1168.4" r="9.2"/><circle cx="1286.5" cy="1059.7" r="9.2"/><circle cx="1288.5" cy="1086.9" r="9.2"/><circle cx="1290.4" cy="1067.1" r="9.2"/><circle cx="1292.3" cy="1099.8" r="9.2"/><circle cx="1294.3" cy="1113.6" r="9.2"/><circle cx="1296.2" cy="1086.9" r="9.2"/><circle cx="1298.2" cy="1091.1" r="9.2"/><circle cx="1300.1" cy="1086.9" r="9.2"/><circle cx="1302.1" cy="1086.9" r="9.2"/><circle cx="1304.0" cy="1035.8" r="9.2"/><circle cx="1306.0" cy="1113.6" r="9.2"/><circle cx="1308.0" cy="1113.6" r="9.2"/><circle cx="1309.9" cy="1070.9" r="9.2"/><circle cx="1311.9" cy="1078.7" r="9.2"/><circle cx="1313.9" cy="1174.8" r="9.2"/><circle cx="1315.9" cy="1168.4" r="9.2"/><circle cx="1317.8" cy="1202.8" r="9.2"/><circle cx="1319.8" cy="1162.2" r="9.2"/><circle cx="1321.8" cy="1059.7" r="9.2"/><circle cx="1323.8" cy="1144.6" r="9.2"/><circle cx="1325.8" cy="1049.1" r="9.2"/><circle cx="1327.8" cy="1091.1" r="9.2"/><circle cx="1329.8" cy="1078.7" r="9.2"/><circle cx="1331.8" cy="1095.4" r="9.2"/><circle cx="1333.9" cy="1067.1" r="9.2"/><circle cx="1335.9" cy="1168.4" r="9.2"/><circle cx="1338.0" cy="1168.4" r="9.2"/><circle cx="1340.0" cy="1144.6" r="9.2"/><circle cx="1342.1" cy="1123.4" r="9.2"/><circle cx="1344.2" cy="1133.7" r="9.2"/><circle cx="1346.2" cy="1162.2" r="9.2"/><circle cx="1348.3" cy="1128.5" r="9.2"/><circle cx="1350.4" cy="1150.3" r="9.2"/><circle cx="1352.5" cy="1118.5" r="9.2"/><circle cx="1354.7" cy="1195.5" r="9.2"/><circle cx="1356.8" cy="1156.2" r="9.2"/><circle cx="1358.9" cy="1181.5" r="9.2"/><circle cx="1361.1" cy="1095.4" r="9.2"/><circle cx="1363.2" cy="1128.5" r="9.2"/><circle cx="1365.4" cy="1128.5" r="9.2"/><circle cx="1367.5" cy="1156.2" r="9.2"/><circle cx="1369.7" cy="1104.3" r="9.2"/><circle cx="1371.9" cy="1139.1" r="9.2"/><circle cx="1374.1" cy="1195.5" r="9.2"/><circle cx="1376.3" cy="1139.1" r="9.2"/><circle cx="1378.5" cy="1174.8" r="9.2"/><circle cx="1380.8" cy="1118.5" r="9.2"/><circle cx="1383.0" cy="1139.1" r="9.2"/><circle cx="1385.3" cy="1174.8" r="9.2"/><circle cx="1387.5" cy="1195.5" r="9.2"/><circle cx="1389.8" cy="1210.5" r="9.2"/><circle cx="1392.1" cy="1210.5" r="9.2"/><circle cx="1394.3" cy="1128.5" r="9.2"/><circle cx="1396.7" cy="1139.1" r="9.2"/><circle cx="1399.0" cy="1226.9" r="9.2"/><circle cx="1401.3" cy="1218.5" r="9.2"/><circle cx="1403.7" cy="1297.9" r="9.2"/><circle cx="1406.1" cy="1144.6" r="9.2"/><circle cx="1408.5" cy="1202.8" r="9.2"/><circle cx="1410.9" cy="1181.5" r="9.2"/><circle cx="1413.3" cy="1168.4" r="9.2"/><circle cx="1415.8" cy="1210.5" r="9.2"/><circle cx="1418.2" cy="1324.1" r="9.2"/><circle cx="1420.7" cy="1264.3" r="9.2"/><circle cx="1423.2" cy="1264.3" r="9.2"/><circle cx="1425.8" cy="1202.8" r="9.2"/><circle cx="1428.3" cy="1202.8" r="9.2"/><circle cx="1430.9" cy="1202.8" r="9.2"/><circle cx="1433.4" cy="1235.6" r="9.2"/><circle cx="1436.0" cy="1244.7" r="9.2"/><circle cx="1438.6" cy="1218.5" r="9.2"/><circle cx="1441.3" cy="1244.7" r="9.2"/><circle cx="1443.9" cy="1244.7" r="9.2"/><circle cx="1446.6" cy="1254.2" r="9.2"/><circle cx="1449.2" cy="1371.3" r="9.2"/><circle cx="1451.9" cy="1274.9" r="9.2"/><circle cx="1454.6" cy="1286.1" r="9.2"/><circle cx="1457.3" cy="1264.3" r="9.2"/><circle cx="1460.0" cy="1274.9" r="9.2"/><circle cx="1462.7" cy="1324.1" r="9.2"/><circle cx="1465.5" cy="1324.1" r="9.2"/><circle cx="1468.2" cy="1338.6" r="9.2"/><circle cx="1471.0" cy="1235.6" r="9.2"/><circle cx="1473.7" cy="1218.5" r="9.2"/><circle cx="1476.5" cy="1433.7" r="9.2"/><circle cx="1479.3" cy="1264.3" r="9.2"/><circle cx="1482.1" cy="1274.9" r="9.2"/><circle cx="1484.9" cy="1274.9" r="9.2"/><circle cx="1487.7" cy="1310.6" r="9.2"/><circle cx="1490.6" cy="1371.3" r="9.2"/><circle cx="1493.4" cy="1264.3" r="9.2"/><circle cx="1496.3" cy="1324.1" r="9.2"/><circle cx="1499.1" cy="1254.2" r="9.2"/><circle cx="1502.0" cy="1274.9" r="9.2"/><circle cx="1504.9" cy="1274.9" r="9.2"/><circle cx="1507.8" cy="1410.6" r="9.2"/><circle cx="1510.7" cy="1235.6" r="9.2"/><circle cx="1513.6" cy="1286.1" r="9.2"/><circle cx="1516.5" cy="1297.9" r="9.2"/><circle cx="1519.5" cy="1286.1" r="9.2"/><circle cx="1522.4" cy="1338.6" r="9.2"/><circle cx="1525.3" cy="1297.9" r="9.2"/><circle cx="1528.3" cy="1324.1" r="9.2"/><circle cx="1531.2" cy="1310.6" r="9.2"/><circle cx="1534.2" cy="1324.1" r="9.2"/><circle cx="1537.2" cy="1390.0" r="9.2"/><circle cx="1540.2" cy="1297.9" r="9.2"/><circle cx="1543.1" cy="1244.7" r="9.2"/><circle cx="1546.1" cy="1338.6" r="9.2"/><circle cx="1549.1" cy="1390.0" r="9.2"/><circle cx="1552.1" cy="1354.3" r="9.2"/><circle cx="1555.2" cy="1338.6" r="9.2"/><circle cx="1558.2" cy="1433.7" r="9.2"/><circle cx="1561.2" cy="1254.2" r="9.2"/><circle cx="1564.2" cy="1274.9" r="9.2"/><circle cx="1567.2" cy="1310.6" r="9.2"/><circle cx="1570.3" cy="1297.9" r="9.2"/><circle cx="1573.3" cy="1264.3" r="9.2"/><circle cx="1576.3" cy="1324.1" r="9.2"/><circle cx="1579.4" cy="1310.6" r="9.2"/><circle cx="1582.4" cy="1286.1" r="9.2"/><circle cx="1585.5" cy="1338.6" r="9.2"/><circle cx="1588.5" cy="1338.6" r="9.2"/><circle cx="1591.6" cy="1390.0" r="9.2"/><circle cx="1594.6" cy="1410.6" r="9.2"/><circle cx="1597.7" cy="1371.3" r="9.2"/><circle cx="1600.7" cy="1459.9" r="9.2"/><circle cx="1603.8" cy="1354.3" r="9.2"/><circle cx="1606.8" cy="1354.3" r="9.2"/><circle cx="1609.9" cy="1371.3" r="9.2"/><circle cx="1613.0" cy="1371.3" r="9.2"/><circle cx="1616.1" cy="1459.9" r="9.2"/><circle cx="1619.1" cy="1338.6" r="9.2"/><circle cx="1622.2" cy="1371.3" r="9.2"/><circle cx="1625.3" cy="1371.3" r="9.2"/><circle cx="1628.4" cy="1354.3" r="9.2"/><circle cx="1631.5" cy="1354.3" r="9.2"/><circle cx="1634.5" cy="1274.9" r="9.2"/><circle cx="1637.6" cy="1324.1" r="9.2"/><circle cx="1640.7" cy="1235.6" r="9.2"/><circle cx="1643.8" cy="1264.3" r="9.2"/><circle cx="1646.9" cy="1338.6" r="9.2"/><circle cx="1650.0" cy="1371.3" r="9.2"/><circle cx="1653.1" cy="1324.1" r="9.2"/><circle cx="1656.2" cy="1390.0" r="9.2"/><circle cx="1659.4" cy="1371.3" r="9.2"/><circle cx="1662.5" cy="1525.8" r="9.2"/><circle cx="1665.6" cy="1274.9" r="9.2"/><circle cx="1668.7" cy="1459.9" r="9.2"/><circle cx="1671.9" cy="1310.6" r="9.2"/><circle cx="1675.0" cy="1338.6" r="9.2"/><circle cx="1678.2" cy="1371.3" r="9.2"/><circle cx="1681.3" cy="1354.3" r="9.2"/><circle cx="1684.5" cy="1310.6" r="9.2"/><circle cx="1687.7" cy="1433.7" r="9.2"/><circle cx="1690.9" cy="1274.9" r="9.2"/><circle cx="1694.0" cy="1433.7" r="9.2"/><circle cx="1697.2" cy="1371.3" r="9.2"/><circle cx="1700.4" cy="1459.9" r="9.2"/><circle cx="1703.6" cy="1338.6" r="9.2"/><circle cx="1706.8" cy="1490.1" r="9.2"/><circle cx="1710.0" cy="1297.9" r="9.2"/><circle cx="1713.2" cy="1371.3" r="9.2"/><circle cx="1716.4" cy="1338.6" r="9.2"/><circle cx="1719.6" cy="1338.6" r="9.2"/><circle cx="1722.8" cy="1338.6" r="9.2"/><circle cx="1726.0" cy="1310.6" r="9.2"/><circle cx="1729.2" cy="1390.0" r="9.2"/><circle cx="1732.4" cy="1569.5" r="9.2"/><circle cx="1735.6" cy="1525.8" r="9.2"/><circle cx="1738.8" cy="1390.0" r="9.2"/><circle cx="1742.0" cy="1433.7" r="9.2"/><circle cx="1745.2" cy="1371.3" r="9.2"/><circle cx="1748.4" cy="1433.7" r="9.2"/><circle cx="1751.6" cy="1459.9" r="9.2"/><circle cx="1754.8" cy="1310.6" r="9.2"/><circle cx="1758.0" cy="1459.9" r="9.2"/><circle cx="1764.4" cy="1459.9" r="9.2"/><circle cx="1767.6" cy="1490.1" r="9.2"/><circle cx="1770.8" cy="1410.6" r="9.2"/><circle cx="1774.0" cy="1459.9" r="9.2"/><circle cx="1777.2" cy="1459.9" r="9.2"/><circle cx="1780.4" cy="1410.6" r="9.2"/><circle cx="1783.6" cy="1410.6" r="9.2"/><circle cx="1786.8" cy="1459.9" r="9.2"/><circle cx="1790.0" cy="1324.1" r="9.2"/><circle cx="1796.4" cy="1525.8" r="9.2"/><circle cx="1799.6" cy="1569.5" r="9.2"/><circle cx="1802.8" cy="1354.3" r="9.2"/><circle cx="1806.0" cy="1459.9" r="9.2"/><circle cx="1815.6" cy="1390.0" r="9.2"/><circle cx="1818.8" cy="1433.7" r="9.2"/><circle cx="1822.0" cy="1433.7" r="9.2"/><circle cx="1825.2" cy="1525.8" r="9.2"/><circle cx="1828.4" cy="1525.8" r="9.2"/><circle cx="1831.6" cy="1433.7" r="9.2"/><circle cx="1834.8" cy="1410.6" r="9.2"/><circle cx="1838.0" cy="1410.6" r="9.2"/><circle cx="1841.2" cy="1490.1" r="9.2"/><circle cx="1844.4" cy="1569.5" r="9.2"/><circle cx="1847.6" cy="1433.7" r="9.2"/><circle cx="1854.0" cy="1525.8" r="9.2"/><circle cx="1857.2" cy="1490.1" r="9.2"/><circle cx="1860.4" cy="1390.0" r="9.2"/><circle cx="1863.6" cy="1525.8" r="9.2"/><circle cx="1866.8" cy="1459.9" r="9.2"/><circle cx="1870.0" cy="1459.9" r="9.2"/><circle cx="1873.2" cy="1525.8" r="9.2"/><circle cx="1876.4" cy="1490.1" r="9.2"/><circle cx="1879.6" cy="1569.5" r="9.2"/><circle cx="1886.0" cy="1525.8" r="9.2"/><circle cx="1889.2" cy="1433.7" r="9.2"/><circle cx="1892.4" cy="1490.1" r="9.2"/><circle cx="1895.6" cy="1433.7" r="9.2"/><circle cx="1898.8" cy="1525.8" r="9.2"/><circle cx="1902.0" cy="1433.7" r="9.2"/><circle cx="1905.2" cy="1569.5" r="9.2"/><circle cx="1908.4" cy="1459.9" r="9.2"/><circle cx="1914.8" cy="1459.9" r="9.2"/><circle cx="1918.0" cy="1390.0" r="9.2"/><circle cx="1921.2" cy="1525.8" r="9.2"/><circle cx="1924.4" cy="1490.1" r="9.2"/><circle cx="1927.6" cy="1525.8" r="9.2"/><circle cx="1930.8" cy="1525.8" r="9.2"/><circle cx="1934.0" cy="1490.1" r="9.2"/><circle cx="1937.2" cy="1490.1" r="9.2"/><circle cx="1940.4" cy="1569.5" r="9.2"/><circle cx="1943.6" cy="1459.9" r="9.2"/><circle cx="1946.8" cy="1569.5" r="9.2"/><circle cx="1956.4" cy="1490.1" r="9.2"/><circle cx="1959.6" cy="1490.1" r="9.2"/><circle cx="1962.8" cy="1459.9" r="9.2"/><circle cx="1966.0" cy="1410.6" r="9.2"/><circle cx="1972.4" cy="1459.9" r="9.2"/><circle cx="1975.6" cy="1490.1" r="9.2"/><circle cx="1982.0" cy="1525.8" r="9.2"/><circle cx="1988.4" cy="1525.8" r="9.2"/><circle cx="1991.6" cy="1569.5" r="9.2"/><circle cx="1994.8" cy="1569.5" r="9.2"/><circle cx="2007.6" cy="1459.9" r="9.2"/><circle cx="2010.8" cy="1569.5" r="9.2"/><circle cx="2014.0" cy="1525.8" r="9.2"/><circle cx="2020.4" cy="1569.5" r="9.2"/><circle cx="2026.8" cy="1390.0" r="9.2"/><circle cx="2030.0" cy="1459.9" r="9.2"/><circle cx="2033.2" cy="1569.5" r="9.2"/><circle cx="2036.4" cy="1459.9" r="9.2"/><circle cx="2039.6" cy="1569.5" r="9.2"/><circle cx="2042.8" cy="1525.8" r="9.2"/><circle cx="2046.0" cy="1410.6" r="9.2"/><circle cx="2052.4" cy="1569.5" r="9.2"/><circle cx="2058.8" cy="1410.6" r="9.2"/><circle cx="2071.6" cy="1459.9" r="9.2"/><circle cx="2074.8" cy="1525.8" r="9.2"/><circle cx="2078.0" cy="1490.1" r="9.2"/><circle cx="2084.4" cy="1459.9" r="9.2"/><circle cx="2097.2" cy="1433.7" r="9.2"/><circle cx="2100.4" cy="1525.8" r="9.2"/><circle cx="2103.6" cy="1459.9" r="9.2"/><circle cx="2110.0" cy="1569.5" r="9.2"/><circle cx="2113.2" cy="1525.8" r="9.2"/><circle cx="2116.4" cy="1525.8" r="9.2"/><circle cx="2119.6" cy="1390.0" r="9.2"/></g><path d="M240.0 1600.0 L245.0 1450.0 L250.0 1300.0 L255.0 1150.0 L259.5 1000.0 L262.0 920.0 L265.5 800.0 L270.0 713.0 L277.0 640.0 L285.0 580.0 L293.0 530.0 L301.0 489.0 L308.8 455.8 L318.5 427.0 L330.0 405.0 L347.0 388.0 L362.0 385.0 L376.0 387.0 L392.0 392.0 L405.0 398.0 L424.0 412.5 L443.5 427.0 L462.7 441.0 L477.0 455.8 L492.0 468.0 L511.0 490.0 L534.8 508.6 L563.0 523.5 L589.0 545.0 L615.0 566.0 L641.0 585.0 L667.0 607.0 L693.5 624.0 L719.6 640.0 L749.5 658.0 L780.0 680.0 L812.0 705.7 L850.0 737.0 L874.0 755.6 L900.0 775.5 L951.0 821.4 L1002.0 869.0 L1053.0 908.0 L1104.0 954.0 L1150.0 1001.0 L1184.0 1031.6 L1218.0 1065.6 L1252.0 1099.7 L1286.0 1130.0 L1320.0 1162.6 L1337.0 1181.3 L1354.0 1195.0 L1388.0 1225.5 L1415.0 1250.0 L1434.0 1268.0 L1468.0 1302.0 L1502.0 1339.5 L1536.0 1370.0 L1570.0 1397.0 L1604.0 1421.0 L1638.0 1455.0 L1655.0 1465.0 L1672.7 1481.6 L1695.0 1499.8 L1718.0 1518.0 L1740.7 1536.0 L1763.4 1554.0 L1780.4 1570.0 L1791.7 1581.4 L1800.8 1583.7 L1808.7 1586.0 L1820.0 1595.0 L1826.0 1601.0" fill="none" stroke="#0000ff" stroke-width="8" stroke-linejoin="round" stroke-linecap="round"/><g fill="#fff" stroke="#000000" stroke-width="3.6"><circle cx="250.9" cy="1459.9" r="9.2"/><circle cx="254.1" cy="1410.6" r="9.2"/><circle cx="257.3" cy="1286.1" r="9.2"/><circle cx="260.3" cy="1150.3" r="9.2"/><circle cx="262.7" cy="1113.6" r="9.2"/><circle cx="264.7" cy="1006.1" r="9.2"/><circle cx="266.4" cy="935.1" r="9.2"/><circle cx="268.0" cy="875.9" r="9.2"/><circle cx="269.4" cy="791.2" r="9.2"/><circle cx="270.7" cy="765.2" r="9.2"/><circle cx="272.0" cy="712.3" r="9.2"/><circle cx="273.3" cy="679.1" r="9.2"/><circle cx="274.6" cy="653.0" r="9.2"/><circle cx="275.9" cy="635.1" r="9.2"/><circle cx="277.2" cy="600.9" r="9.2"/><circle cx="278.5" cy="593.9" r="9.2"/><circle cx="279.8" cy="589.6" r="9.2"/><circle cx="281.1" cy="549.4" r="9.2"/><circle cx="282.4" cy="536.6" r="9.2"/><circle cx="283.7" cy="507.0" r="9.2"/><circle cx="285.0" cy="490.6" r="9.2"/><circle cx="286.3" cy="476.4" r="9.2"/><circle cx="287.6" cy="467.4" r="9.2"/><circle cx="288.9" cy="455.5" r="9.2"/><circle cx="290.2" cy="447.1" r="9.2"/><circle cx="291.5" cy="447.8" r="9.2"/><circle cx="292.8" cy="434.5" r="9.2"/><circle cx="294.1" cy="434.8" r="9.2"/><circle cx="295.4" cy="425.9" r="9.2"/><circle cx="296.7" cy="417.6" r="9.2"/><circle cx="298.0" cy="415.9" r="9.2"/><circle cx="299.3" cy="419.8" r="9.2"/><circle cx="300.6" cy="411.9" r="9.2"/><circle cx="301.9" cy="412.5" r="9.2"/><circle cx="303.2" cy="408.2" r="9.2"/><circle cx="304.5" cy="407.8" r="9.2"/><circle cx="305.8" cy="401.0" r="9.2"/><circle cx="307.1" cy="404.2" r="9.2"/><circle cx="308.4" cy="405.1" r="9.2"/><circle cx="309.7" cy="405.3" r="9.2"/><circle cx="311.0" cy="408.6" r="9.2"/><circle cx="312.3" cy="399.2" r="9.2"/><circle cx="313.6" cy="405.8" r="9.2"/><circle cx="314.9" cy="403.2" r="9.2"/><circle cx="316.2" cy="396.9" r="9.2"/><circle cx="317.5" cy="401.2" r="9.2"/><circle cx="318.8" cy="400.4" r="9.2"/><circle cx="320.1" cy="402.0" r="9.2"/><circle cx="321.4" cy="400.4" r="9.2"/><circle cx="322.7" cy="397.2" r="9.2"/><circle cx="324.0" cy="404.0" r="9.2"/><circle cx="325.3" cy="400.2" r="9.2"/><circle cx="326.6" cy="399.3" r="9.2"/><circle cx="327.9" cy="403.3" r="9.2"/><circle cx="329.2" cy="403.3" r="9.2"/><circle cx="330.5" cy="395.6" r="9.2"/><circle cx="331.8" cy="401.6" r="9.2"/><circle cx="333.1" cy="401.9" r="9.2"/><circle cx="334.4" cy="399.9" r="9.2"/><circle cx="335.7" cy="405.7" r="9.2"/><circle cx="337.0" cy="407.1" r="9.2"/><circle cx="338.3" cy="394.6" r="9.2"/><circle cx="339.6" cy="399.9" r="9.2"/><circle cx="340.9" cy="398.5" r="9.2"/><circle cx="342.2" cy="401.6" r="9.2"/><circle cx="343.5" cy="408.7" r="9.2"/><circle cx="344.8" cy="406.0" r="9.2"/><circle cx="346.1" cy="400.7" r="9.2"/><circle cx="347.4" cy="405.4" r="9.2"/><circle cx="348.7" cy="408.3" r="9.2"/><circle cx="350.0" cy="408.9" r="9.2"/><circle cx="351.3" cy="405.5" r="9.2"/><circle cx="352.6" cy="405.5" r="9.2"/><circle cx="353.9" cy="409.5" r="9.2"/><circle cx="355.2" cy="404.1" r="9.2"/><circle cx="356.5" cy="411.7" r="9.2"/><circle cx="357.8" cy="409.8" r="9.2"/><circle cx="359.1" cy="409.1" r="9.2"/><circle cx="360.4" cy="412.8" r="9.2"/><circle cx="361.7" cy="414.1" r="9.2"/><circle cx="363.0" cy="416.3" r="9.2"/><circle cx="364.3" cy="412.2" r="9.2"/><circle cx="365.6" cy="412.6" r="9.2"/><circle cx="366.9" cy="412.4" r="9.2"/><circle cx="368.2" cy="416.3" r="9.2"/><circle cx="369.5" cy="415.4" r="9.2"/><circle cx="370.8" cy="420.0" r="9.2"/><circle cx="372.1" cy="422.5" r="9.2"/><circle cx="373.4" cy="418.2" r="9.2"/><circle cx="374.7" cy="424.6" r="9.2"/><circle cx="376.0" cy="426.4" r="9.2"/><circle cx="377.3" cy="432.0" r="9.2"/><circle cx="378.6" cy="429.0" r="9.2"/><circle cx="379.9" cy="427.0" r="9.2"/><circle cx="381.2" cy="432.5" r="9.2"/><circle cx="382.5" cy="430.1" r="9.2"/><circle cx="383.8" cy="432.6" r="9.2"/><circle cx="385.1" cy="433.0" r="9.2"/><circle cx="386.4" cy="438.5" r="9.2"/><circle cx="387.7" cy="445.7" r="9.2"/><circle cx="389.0" cy="442.6" r="9.2"/><circle cx="390.3" cy="444.6" r="9.2"/><circle cx="391.6" cy="445.5" r="9.2"/><circle cx="392.9" cy="449.7" r="9.2"/><circle cx="394.2" cy="447.4" r="9.2"/><circle cx="395.5" cy="449.9" r="9.2"/><circle cx="396.8" cy="455.9" r="9.2"/><circle cx="398.1" cy="449.6" r="9.2"/><circle cx="399.4" cy="453.7" r="9.2"/><circle cx="400.7" cy="458.4" r="9.2"/><circle cx="402.0" cy="453.4" r="9.2"/><circle cx="403.3" cy="459.3" r="9.2"/><circle cx="404.6" cy="457.7" r="9.2"/><circle cx="405.9" cy="456.0" r="9.2"/><circle cx="407.2" cy="462.7" r="9.2"/><circle cx="408.5" cy="463.4" r="9.2"/><circle cx="409.8" cy="465.6" r="9.2"/><circle cx="411.1" cy="466.0" r="9.2"/><circle cx="412.4" cy="467.8" r="9.2"/><circle cx="413.7" cy="466.3" r="9.2"/><circle cx="415.0" cy="467.0" r="9.2"/><circle cx="416.3" cy="472.8" r="9.2"/><circle cx="417.6" cy="480.0" r="9.2"/><circle cx="418.9" cy="470.3" r="9.2"/><circle cx="420.2" cy="474.0" r="9.2"/><circle cx="421.5" cy="475.3" r="9.2"/><circle cx="422.8" cy="474.9" r="9.2"/><circle cx="424.1" cy="474.7" r="9.2"/><circle cx="425.4" cy="486.0" r="9.2"/><circle cx="426.7" cy="486.8" r="9.2"/><circle cx="428.0" cy="484.0" r="9.2"/><circle cx="429.3" cy="492.0" r="9.2"/><circle cx="430.6" cy="483.9" r="9.2"/><circle cx="431.9" cy="485.9" r="9.2"/><circle cx="433.2" cy="490.1" r="9.2"/><circle cx="434.5" cy="488.2" r="9.2"/><circle cx="435.8" cy="494.1" r="9.2"/><circle cx="437.1" cy="489.6" r="9.2"/><circle cx="438.4" cy="495.4" r="9.2"/><circle cx="439.7" cy="494.7" r="9.2"/><circle cx="441.0" cy="491.1" r="9.2"/><circle cx="442.3" cy="493.5" r="9.2"/><circle cx="443.6" cy="496.6" r="9.2"/><circle cx="444.9" cy="496.7" r="9.2"/><circle cx="446.2" cy="494.6" r="9.2"/><circle cx="447.5" cy="505.8" r="9.2"/><circle cx="448.8" cy="506.7" r="9.2"/><circle cx="450.1" cy="500.9" r="9.2"/><circle cx="451.4" cy="503.9" r="9.2"/><circle cx="452.7" cy="511.0" r="9.2"/><circle cx="454.0" cy="508.7" r="9.2"/><circle cx="455.3" cy="510.7" r="9.2"/><circle cx="456.6" cy="508.2" r="9.2"/><circle cx="457.9" cy="508.3" r="9.2"/><circle cx="459.2" cy="515.7" r="9.2"/><circle cx="460.5" cy="514.9" r="9.2"/><circle cx="461.8" cy="516.9" r="9.2"/><circle cx="463.1" cy="519.9" r="9.2"/><circle cx="464.4" cy="530.5" r="9.2"/><circle cx="465.7" cy="520.9" r="9.2"/><circle cx="467.0" cy="533.8" r="9.2"/><circle cx="468.3" cy="521.4" r="9.2"/><circle cx="469.6" cy="526.5" r="9.2"/><circle cx="470.9" cy="531.8" r="9.2"/><circle cx="472.2" cy="534.1" r="9.2"/><circle cx="473.5" cy="536.7" r="9.2"/><circle cx="474.8" cy="531.8" r="9.2"/><circle cx="476.1" cy="538.8" r="9.2"/><circle cx="477.4" cy="537.8" r="9.2"/><circle cx="478.7" cy="537.0" r="9.2"/><circle cx="480.0" cy="543.5" r="9.2"/><circle cx="481.3" cy="536.4" r="9.2"/><circle cx="482.6" cy="539.0" r="9.2"/><circle cx="483.9" cy="544.5" r="9.2"/><circle cx="485.2" cy="545.4" r="9.2"/><circle cx="486.5" cy="550.6" r="9.2"/><circle cx="487.8" cy="548.6" r="9.2"/><circle cx="489.1" cy="546.2" r="9.2"/><circle cx="490.4" cy="546.5" r="9.2"/><circle cx="491.7" cy="556.0" r="9.2"/><circle cx="493.0" cy="552.2" r="9.2"/><circle cx="494.3" cy="552.9" r="9.2"/><circle cx="495.6" cy="555.5" r="9.2"/><circle cx="496.9" cy="555.3" r="9.2"/><circle cx="498.2" cy="557.3" r="9.2"/><circle cx="499.5" cy="572.5" r="9.2"/><circle cx="500.8" cy="556.0" r="9.2"/><circle cx="502.1" cy="568.5" r="9.2"/><circle cx="503.4" cy="566.4" r="9.2"/><circle cx="504.7" cy="567.0" r="9.2"/><circle cx="506.0" cy="561.9" r="9.2"/><circle cx="507.3" cy="561.1" r="9.2"/><circle cx="508.6" cy="563.0" r="9.2"/><circle cx="509.9" cy="572.8" r="9.2"/><circle cx="511.2" cy="570.1" r="9.2"/><circle cx="512.5" cy="582.8" r="9.2"/><circle cx="513.8" cy="579.3" r="9.2"/><circle cx="515.1" cy="585.7" r="9.2"/><circle cx="516.4" cy="577.2" r="9.2"/><circle cx="517.7" cy="572.4" r="9.2"/><circle cx="519.0" cy="591.3" r="9.2"/><circle cx="520.3" cy="589.9" r="9.2"/><circle cx="521.6" cy="577.3" r="9.2"/><circle cx="522.9" cy="592.7" r="9.2"/><circle cx="524.2" cy="587.0" r="9.2"/><circle cx="525.5" cy="590.6" r="9.2"/><circle cx="526.8" cy="585.6" r="9.2"/><circle cx="528.1" cy="585.9" r="9.2"/><circle cx="529.4" cy="594.3" r="9.2"/><circle cx="530.7" cy="589.3" r="9.2"/><circle cx="532.0" cy="596.2" r="9.2"/><circle cx="533.3" cy="595.0" r="9.2"/><circle cx="534.6" cy="597.9" r="9.2"/><circle cx="535.9" cy="605.0" r="9.2"/><circle cx="537.2" cy="596.2" r="9.2"/><circle cx="538.5" cy="597.9" r="9.2"/><circle cx="539.8" cy="597.3" r="9.2"/><circle cx="541.1" cy="608.9" r="9.2"/><circle cx="542.4" cy="603.2" r="9.2"/><circle cx="543.7" cy="596.3" r="9.2"/><circle cx="545.0" cy="614.6" r="9.2"/><circle cx="546.3" cy="614.8" r="9.2"/><circle cx="547.6" cy="609.8" r="9.2"/><circle cx="548.9" cy="616.1" r="9.2"/><circle cx="550.2" cy="607.4" r="9.2"/><circle cx="551.5" cy="612.9" r="9.2"/><circle cx="552.8" cy="615.2" r="9.2"/><circle cx="554.1" cy="612.1" r="9.2"/><circle cx="555.4" cy="605.2" r="9.2"/><circle cx="556.7" cy="613.8" r="9.2"/><circle cx="558.0" cy="611.4" r="9.2"/><circle cx="559.3" cy="614.8" r="9.2"/><circle cx="560.6" cy="619.2" r="9.2"/><circle cx="561.9" cy="630.0" r="9.2"/><circle cx="563.2" cy="616.8" r="9.2"/><circle cx="564.5" cy="637.5" r="9.2"/><circle cx="565.8" cy="637.0" r="9.2"/><circle cx="567.1" cy="621.6" r="9.2"/><circle cx="568.4" cy="629.5" r="9.2"/><circle cx="569.7" cy="631.2" r="9.2"/><circle cx="571.0" cy="641.4" r="9.2"/><circle cx="572.3" cy="645.3" r="9.2"/><circle cx="573.6" cy="649.1" r="9.2"/><circle cx="574.9" cy="636.6" r="9.2"/><circle cx="576.2" cy="644.3" r="9.2"/><circle cx="577.5" cy="641.1" r="9.2"/><circle cx="578.8" cy="636.9" r="9.2"/><circle cx="580.1" cy="644.9" r="9.2"/><circle cx="581.4" cy="655.8" r="9.2"/><circle cx="582.7" cy="647.2" r="9.2"/><circle cx="584.0" cy="646.9" r="9.2"/><circle cx="585.3" cy="648.2" r="9.2"/><circle cx="586.6" cy="647.0" r="9.2"/><circle cx="587.9" cy="647.9" r="9.2"/><circle cx="589.2" cy="657.2" r="9.2"/><circle cx="590.5" cy="664.4" r="9.2"/><circle cx="591.8" cy="663.1" r="9.2"/><circle cx="593.1" cy="663.4" r="9.2"/><circle cx="594.4" cy="663.5" r="9.2"/><circle cx="595.7" cy="670.6" r="9.2"/><circle cx="597.0" cy="674.4" r="9.2"/><circle cx="598.3" cy="669.2" r="9.2"/><circle cx="599.6" cy="667.7" r="9.2"/><circle cx="600.9" cy="659.1" r="9.2"/><circle cx="602.2" cy="683.2" r="9.2"/><circle cx="603.5" cy="674.6" r="9.2"/><circle cx="604.8" cy="679.1" r="9.2"/><circle cx="606.1" cy="674.4" r="9.2"/><circle cx="607.4" cy="690.6" r="9.2"/><circle cx="608.7" cy="688.9" r="9.2"/><circle cx="610.0" cy="679.5" r="9.2"/><circle cx="611.3" cy="681.0" r="9.2"/><circle cx="612.6" cy="690.2" r="9.2"/><circle cx="613.9" cy="664.7" r="9.2"/><circle cx="615.2" cy="691.6" r="9.2"/><circle cx="616.5" cy="689.0" r="9.2"/><circle cx="617.8" cy="701.3" r="9.2"/><circle cx="619.1" cy="686.2" r="9.2"/><circle cx="620.4" cy="702.4" r="9.2"/><circle cx="621.7" cy="688.8" r="9.2"/><circle cx="623.0" cy="698.5" r="9.2"/><circle cx="624.3" cy="706.0" r="9.2"/><circle cx="625.6" cy="699.6" r="9.2"/><circle cx="626.9" cy="693.3" r="9.2"/><circle cx="628.2" cy="686.3" r="9.2"/><circle cx="629.5" cy="695.1" r="9.2"/><circle cx="630.8" cy="693.2" r="9.2"/><circle cx="632.1" cy="708.5" r="9.2"/><circle cx="633.4" cy="709.3" r="9.2"/><circle cx="634.7" cy="710.5" r="9.2"/><circle cx="636.0" cy="702.8" r="9.2"/><circle cx="637.3" cy="723.1" r="9.2"/><circle cx="638.6" cy="692.5" r="9.2"/><circle cx="639.9" cy="713.6" r="9.2"/><circle cx="641.2" cy="715.9" r="9.2"/><circle cx="642.5" cy="718.2" r="9.2"/><circle cx="643.8" cy="701.5" r="9.2"/><circle cx="645.1" cy="712.7" r="9.2"/><circle cx="646.4" cy="710.0" r="9.2"/><circle cx="647.7" cy="710.3" r="9.2"/><circle cx="649.0" cy="730.1" r="9.2"/><circle cx="650.3" cy="714.7" r="9.2"/><circle cx="651.6" cy="729.6" r="9.2"/><circle cx="652.9" cy="724.5" r="9.2"/><circle cx="654.2" cy="729.0" r="9.2"/><circle cx="655.5" cy="721.2" r="9.2"/><circle cx="656.8" cy="731.7" r="9.2"/><circle cx="658.1" cy="731.9" r="9.2"/><circle cx="659.4" cy="735.5" r="9.2"/><circle cx="660.7" cy="736.9" r="9.2"/><circle cx="662.0" cy="732.6" r="9.2"/><circle cx="663.3" cy="740.3" r="9.2"/><circle cx="664.6" cy="730.2" r="9.2"/><circle cx="665.9" cy="732.1" r="9.2"/><circle cx="667.2" cy="738.6" r="9.2"/><circle cx="668.5" cy="735.4" r="9.2"/><circle cx="669.8" cy="748.7" r="9.2"/><circle cx="671.1" cy="741.0" r="9.2"/><circle cx="672.4" cy="730.2" r="9.2"/><circle cx="673.7" cy="742.0" r="9.2"/><circle cx="675.0" cy="749.6" r="9.2"/><circle cx="676.3" cy="730.1" r="9.2"/><circle cx="677.6" cy="754.3" r="9.2"/><circle cx="678.9" cy="743.1" r="9.2"/><circle cx="680.2" cy="737.2" r="9.2"/><circle cx="681.5" cy="735.6" r="9.2"/><circle cx="682.8" cy="762.5" r="9.2"/><circle cx="684.1" cy="725.4" r="9.2"/><circle cx="685.4" cy="750.4" r="9.2"/><circle cx="686.7" cy="741.8" r="9.2"/><circle cx="688.0" cy="748.6" r="9.2"/><circle cx="689.3" cy="763.0" r="9.2"/><circle cx="690.6" cy="763.1" r="9.2"/><circle cx="691.9" cy="740.9" r="9.2"/><circle cx="693.2" cy="739.1" r="9.2"/><circle cx="694.5" cy="745.9" r="9.2"/><circle cx="695.8" cy="752.3" r="9.2"/><circle cx="697.1" cy="747.3" r="9.2"/><circle cx="698.4" cy="751.8" r="9.2"/><circle cx="699.7" cy="752.5" r="9.2"/><circle cx="701.0" cy="742.5" r="9.2"/><circle cx="702.3" cy="738.4" r="9.2"/><circle cx="703.6" cy="800.1" r="9.2"/><circle cx="704.9" cy="765.5" r="9.2"/><circle cx="706.2" cy="760.8" r="9.2"/><circle cx="707.5" cy="737.4" r="9.2"/><circle cx="708.8" cy="767.4" r="9.2"/><circle cx="710.1" cy="740.1" r="9.2"/><circle cx="711.4" cy="751.5" r="9.2"/><circle cx="712.7" cy="764.4" r="9.2"/><circle cx="714.0" cy="762.5" r="9.2"/><circle cx="715.3" cy="769.0" r="9.2"/><circle cx="716.6" cy="765.6" r="9.2"/><circle cx="717.9" cy="763.0" r="9.2"/><circle cx="719.2" cy="752.9" r="9.2"/><circle cx="720.5" cy="780.7" r="9.2"/><circle cx="721.8" cy="751.8" r="9.2"/><circle cx="723.1" cy="772.8" r="9.2"/><circle cx="724.4" cy="765.0" r="9.2"/><circle cx="725.7" cy="758.2" r="9.2"/><circle cx="727.0" cy="761.1" r="9.2"/><circle cx="728.3" cy="773.4" r="9.2"/><circle cx="729.6" cy="768.3" r="9.2"/><circle cx="730.9" cy="778.1" r="9.2"/><circle cx="732.2" cy="766.3" r="9.2"/><circle cx="733.5" cy="777.5" r="9.2"/><circle cx="734.8" cy="776.1" r="9.2"/><circle cx="736.1" cy="754.0" r="9.2"/><circle cx="737.4" cy="760.9" r="9.2"/><circle cx="738.7" cy="792.2" r="9.2"/><circle cx="740.0" cy="789.0" r="9.2"/><circle cx="741.3" cy="769.7" r="9.2"/><circle cx="742.6" cy="793.3" r="9.2"/><circle cx="743.9" cy="777.4" r="9.2"/><circle cx="745.2" cy="792.7" r="9.2"/><circle cx="746.5" cy="782.2" r="9.2"/><circle cx="747.8" cy="783.9" r="9.2"/><circle cx="749.1" cy="776.2" r="9.2"/><circle cx="750.4" cy="787.3" r="9.2"/><circle cx="751.7" cy="777.1" r="9.2"/><circle cx="753.0" cy="774.8" r="9.2"/><circle cx="754.3" cy="786.7" r="9.2"/><circle cx="755.6" cy="763.0" r="9.2"/><circle cx="756.9" cy="792.7" r="9.2"/><circle cx="758.2" cy="794.4" r="9.2"/><circle cx="759.5" cy="804.1" r="9.2"/><circle cx="760.8" cy="798.0" r="9.2"/><circle cx="762.1" cy="796.4" r="9.2"/><circle cx="763.4" cy="810.8" r="9.2"/><circle cx="764.7" cy="810.9" r="9.2"/><circle cx="766.0" cy="801.9" r="9.2"/><circle cx="767.3" cy="802.9" r="9.2"/><circle cx="768.6" cy="780.2" r="9.2"/><circle cx="769.9" cy="811.5" r="9.2"/><circle cx="771.2" cy="791.0" r="9.2"/><circle cx="772.5" cy="796.3" r="9.2"/><circle cx="773.9" cy="805.3" r="9.2"/><circle cx="775.2" cy="809.1" r="9.2"/><circle cx="776.5" cy="820.8" r="9.2"/><circle cx="777.8" cy="793.0" r="9.2"/><circle cx="779.1" cy="787.1" r="9.2"/><circle cx="780.4" cy="811.4" r="9.2"/><circle cx="781.7" cy="832.7" r="9.2"/><circle cx="783.1" cy="812.5" r="9.2"/><circle cx="784.4" cy="823.5" r="9.2"/><circle cx="785.7" cy="845.3" r="9.2"/><circle cx="787.1" cy="835.4" r="9.2"/><circle cx="788.4" cy="829.1" r="9.2"/><circle cx="789.7" cy="834.6" r="9.2"/><circle cx="791.1" cy="817.9" r="9.2"/><circle cx="792.5" cy="838.2" r="9.2"/><circle cx="793.8" cy="851.1" r="9.2"/><circle cx="795.2" cy="852.5" r="9.2"/><circle cx="796.5" cy="827.5" r="9.2"/><circle cx="797.9" cy="824.3" r="9.2"/><circle cx="799.3" cy="848.0" r="9.2"/><circle cx="800.7" cy="829.7" r="9.2"/><circle cx="802.1" cy="826.4" r="9.2"/><circle cx="803.5" cy="827.5" r="9.2"/><circle cx="804.9" cy="845.8" r="9.2"/><circle cx="806.3" cy="839.9" r="9.2"/><circle cx="807.7" cy="837.5" r="9.2"/><circle cx="809.1" cy="851.9" r="9.2"/><circle cx="810.5" cy="843.4" r="9.2"/><circle cx="811.9" cy="848.2" r="9.2"/><circle cx="813.3" cy="866.2" r="9.2"/><circle cx="814.7" cy="864.9" r="9.2"/><circle cx="816.2" cy="840.9" r="9.2"/><circle cx="817.6" cy="859.6" r="9.2"/><circle cx="819.0" cy="854.4" r="9.2"/><circle cx="820.5" cy="886.1" r="9.2"/><circle cx="821.9" cy="863.5" r="9.2"/><circle cx="823.4" cy="892.2" r="9.2"/><circle cx="824.8" cy="877.3" r="9.2"/><circle cx="826.3" cy="881.7" r="9.2"/><circle cx="827.7" cy="859.6" r="9.2"/><circle cx="829.2" cy="845.7" r="9.2"/><circle cx="830.6" cy="866.2" r="9.2"/><circle cx="832.1" cy="913.3" r="9.2"/><circle cx="833.6" cy="916.8" r="9.2"/><circle cx="835.1" cy="880.2" r="9.2"/><circle cx="836.5" cy="904.9" r="9.2"/><circle cx="838.0" cy="898.5" r="9.2"/><circle cx="839.5" cy="886.1" r="9.2"/><circle cx="841.0" cy="887.6" r="9.2"/><circle cx="842.5" cy="916.8" r="9.2"/><circle cx="844.0" cy="900.1" r="9.2"/><circle cx="845.4" cy="895.3" r="9.2"/><circle cx="846.9" cy="903.3" r="9.2"/><circle cx="848.4" cy="913.3" r="9.2"/><circle cx="849.9" cy="873.1" r="9.2"/><circle cx="851.5" cy="893.7" r="9.2"/><circle cx="853.0" cy="868.9" r="9.2"/><circle cx="854.5" cy="908.2" r="9.2"/><circle cx="856.0" cy="927.6" r="9.2"/><circle cx="857.5" cy="890.6" r="9.2"/><circle cx="859.0" cy="903.3" r="9.2"/><circle cx="860.6" cy="923.9" r="9.2"/><circle cx="862.1" cy="920.3" r="9.2"/><circle cx="863.6" cy="900.1" r="9.2"/><circle cx="865.2" cy="908.2" r="9.2"/><circle cx="866.7" cy="927.6" r="9.2"/><circle cx="868.3" cy="947.0" r="9.2"/><circle cx="869.8" cy="935.1" r="9.2"/><circle cx="871.4" cy="916.8" r="9.2"/><circle cx="873.0" cy="931.3" r="9.2"/><circle cx="874.5" cy="929.4" r="9.2"/><circle cx="876.1" cy="913.3" r="9.2"/><circle cx="877.7" cy="913.3" r="9.2"/><circle cx="879.3" cy="918.6" r="9.2"/><circle cx="880.9" cy="951.1" r="9.2"/><circle cx="882.4" cy="908.2" r="9.2"/><circle cx="884.0" cy="953.2" r="9.2"/><circle cx="885.6" cy="953.2" r="9.2"/><circle cx="887.2" cy="964.0" r="9.2"/><circle cx="888.8" cy="939.0" r="9.2"/><circle cx="890.5" cy="947.0" r="9.2"/><circle cx="892.1" cy="959.6" r="9.2"/><circle cx="893.7" cy="933.2" r="9.2"/><circle cx="895.3" cy="931.3" r="9.2"/><circle cx="896.9" cy="955.3" r="9.2"/><circle cx="898.6" cy="959.6" r="9.2"/><circle cx="900.2" cy="955.3" r="9.2"/><circle cx="901.9" cy="966.3" r="9.2"/><circle cx="903.5" cy="990.2" r="9.2"/><circle cx="905.2" cy="998.0" r="9.2"/><circle cx="906.8" cy="995.3" r="9.2"/><circle cx="908.5" cy="980.3" r="9.2"/><circle cx="910.1" cy="970.8" r="9.2"/><circle cx="911.8" cy="957.5" r="9.2"/><circle cx="913.5" cy="949.0" r="9.2"/><circle cx="915.2" cy="964.0" r="9.2"/><circle cx="916.8" cy="985.2" r="9.2"/><circle cx="918.5" cy="961.8" r="9.2"/><circle cx="920.2" cy="985.2" r="9.2"/><circle cx="921.9" cy="961.8" r="9.2"/><circle cx="923.6" cy="1026.4" r="9.2"/><circle cx="925.3" cy="1003.3" r="9.2"/><circle cx="927.0" cy="949.0" r="9.2"/><circle cx="928.7" cy="977.9" r="9.2"/><circle cx="930.5" cy="1026.4" r="9.2"/><circle cx="932.2" cy="951.1" r="9.2"/><circle cx="933.9" cy="987.7" r="9.2"/><circle cx="935.6" cy="985.2" r="9.2"/><circle cx="937.4" cy="1042.3" r="9.2"/><circle cx="939.1" cy="1023.4" r="9.2"/><circle cx="940.9" cy="1026.4" r="9.2"/><circle cx="942.6" cy="1017.4" r="9.2"/><circle cx="944.4" cy="1006.1" r="9.2"/><circle cx="946.2" cy="1014.5" r="9.2"/><circle cx="947.9" cy="990.2" r="9.2"/><circle cx="949.7" cy="1039.1" r="9.2"/><circle cx="951.5" cy="1026.4" r="9.2"/><circle cx="953.3" cy="1008.9" r="9.2"/><circle cx="955.1" cy="1032.6" r="9.2"/><circle cx="956.9" cy="1017.4" r="9.2"/><circle cx="958.7" cy="1091.1" r="9.2"/><circle cx="960.5" cy="1056.1" r="9.2"/><circle cx="962.3" cy="1052.6" r="9.2"/><circle cx="964.1" cy="1026.4" r="9.2"/><circle cx="966.0" cy="1039.1" r="9.2"/><circle cx="967.8" cy="1099.8" r="9.2"/><circle cx="969.6" cy="1006.1" r="9.2"/><circle cx="971.5" cy="1029.5" r="9.2"/><circle cx="973.3" cy="1074.8" r="9.2"/><circle cx="975.2" cy="1042.3" r="9.2"/><circle cx="977.1" cy="1078.7" r="9.2"/><circle cx="978.9" cy="1029.5" r="9.2"/><circle cx="980.8" cy="1067.1" r="9.2"/><circle cx="982.7" cy="1070.9" r="9.2"/><circle cx="984.6" cy="1067.1" r="9.2"/><circle cx="986.4" cy="1095.4" r="9.2"/><circle cx="988.3" cy="1059.7" r="9.2"/><circle cx="990.2" cy="1095.4" r="9.2"/><circle cx="992.1" cy="1056.1" r="9.2"/><circle cx="994.0" cy="1052.6" r="9.2"/><circle cx="996.0" cy="1052.6" r="9.2"/><circle cx="997.9" cy="1059.7" r="9.2"/><circle cx="999.8" cy="1104.3" r="9.2"/><circle cx="1001.7" cy="1139.1" r="9.2"/><circle cx="1003.7" cy="1108.9" r="9.2"/><circle cx="1005.6" cy="1104.3" r="9.2"/><circle cx="1007.5" cy="1070.9" r="9.2"/><circle cx="1009.5" cy="1150.3" r="9.2"/><circle cx="1011.4" cy="1099.8" r="9.2"/><circle cx="1013.4" cy="1074.8" r="9.2"/><circle cx="1015.4" cy="1095.4" r="9.2"/><circle cx="1017.3" cy="1091.1" r="9.2"/><circle cx="1019.3" cy="1162.2" r="9.2"/><circle cx="1021.3" cy="1104.3" r="9.2"/><circle cx="1023.3" cy="1128.5" r="9.2"/><circle cx="1025.3" cy="1118.5" r="9.2"/><circle cx="1027.3" cy="1150.3" r="9.2"/><circle cx="1029.3" cy="1128.5" r="9.2"/><circle cx="1031.3" cy="1156.2" r="9.2"/><circle cx="1033.4" cy="1139.1" r="9.2"/><circle cx="1035.4" cy="1188.3" r="9.2"/><circle cx="1037.5" cy="1123.4" r="9.2"/><circle cx="1039.6" cy="1195.5" r="9.2"/><circle cx="1041.6" cy="1108.9" r="9.2"/><circle cx="1043.8" cy="1095.4" r="9.2"/><circle cx="1045.9" cy="1144.6" r="9.2"/><circle cx="1048.0" cy="1139.1" r="9.2"/><circle cx="1050.2" cy="1168.4" r="9.2"/><circle cx="1052.3" cy="1168.4" r="9.2"/><circle cx="1054.5" cy="1168.4" r="9.2"/><circle cx="1056.7" cy="1156.2" r="9.2"/><circle cx="1058.9" cy="1174.8" r="9.2"/><circle cx="1061.1" cy="1188.3" r="9.2"/><circle cx="1063.4" cy="1168.4" r="9.2"/><circle cx="1065.6" cy="1144.6" r="9.2"/><circle cx="1067.9" cy="1174.8" r="9.2"/><circle cx="1070.2" cy="1128.5" r="9.2"/><circle cx="1072.4" cy="1195.5" r="9.2"/><circle cx="1074.8" cy="1195.5" r="9.2"/><circle cx="1077.1" cy="1150.3" r="9.2"/><circle cx="1079.4" cy="1286.1" r="9.2"/><circle cx="1081.8" cy="1162.2" r="9.2"/><circle cx="1084.1" cy="1174.8" r="9.2"/><circle cx="1086.5" cy="1139.1" r="9.2"/><circle cx="1088.9" cy="1264.3" r="9.2"/><circle cx="1091.3" cy="1195.5" r="9.2"/><circle cx="1093.7" cy="1162.2" r="9.2"/><circle cx="1096.1" cy="1297.9" r="9.2"/><circle cx="1098.6" cy="1235.6" r="9.2"/><circle cx="1101.0" cy="1210.5" r="9.2"/><circle cx="1103.5" cy="1162.2" r="9.2"/><circle cx="1106.0" cy="1254.2" r="9.2"/><circle cx="1108.5" cy="1286.1" r="9.2"/><circle cx="1111.0" cy="1218.5" r="9.2"/><circle cx="1113.6" cy="1202.8" r="9.2"/><circle cx="1116.1" cy="1210.5" r="9.2"/><circle cx="1118.7" cy="1264.3" r="9.2"/><circle cx="1121.2" cy="1174.8" r="9.2"/><circle cx="1123.8" cy="1202.8" r="9.2"/><circle cx="1126.4" cy="1274.9" r="9.2"/><circle cx="1129.1" cy="1174.8" r="9.2"/><circle cx="1131.7" cy="1286.1" r="9.2"/><circle cx="1134.4" cy="1264.3" r="9.2"/><circle cx="1137.0" cy="1354.3" r="9.2"/><circle cx="1139.7" cy="1297.9" r="9.2"/><circle cx="1142.4" cy="1264.3" r="9.2"/><circle cx="1145.2" cy="1254.2" r="9.2"/><circle cx="1147.9" cy="1338.6" r="9.2"/><circle cx="1150.7" cy="1244.7" r="9.2"/><circle cx="1153.4" cy="1244.7" r="9.2"/><circle cx="1156.2" cy="1264.3" r="9.2"/><circle cx="1159.0" cy="1244.7" r="9.2"/><circle cx="1161.8" cy="1254.2" r="9.2"/><circle cx="1164.6" cy="1338.6" r="9.2"/><circle cx="1167.5" cy="1264.3" r="9.2"/><circle cx="1170.3" cy="1324.1" r="9.2"/><circle cx="1173.2" cy="1254.2" r="9.2"/><circle cx="1176.1" cy="1264.3" r="9.2"/><circle cx="1179.0" cy="1390.0" r="9.2"/><circle cx="1181.9" cy="1371.3" r="9.2"/><circle cx="1184.8" cy="1297.9" r="9.2"/><circle cx="1187.8" cy="1286.1" r="9.2"/><circle cx="1190.7" cy="1390.0" r="9.2"/><circle cx="1193.7" cy="1274.9" r="9.2"/><circle cx="1196.7" cy="1390.0" r="9.2"/><circle cx="1199.7" cy="1410.6" r="9.2"/><circle cx="1202.7" cy="1390.0" r="9.2"/><circle cx="1205.8" cy="1338.6" r="9.2"/><circle cx="1208.9" cy="1254.2" r="9.2"/><circle cx="1212.0" cy="1433.7" r="9.2"/><circle cx="1215.1" cy="1390.0" r="9.2"/><circle cx="1218.2" cy="1297.9" r="9.2"/><circle cx="1221.4" cy="1390.0" r="9.2"/><circle cx="1224.6" cy="1371.3" r="9.2"/><circle cx="1227.8" cy="1354.3" r="9.2"/><circle cx="1231.0" cy="1371.3" r="9.2"/><circle cx="1234.2" cy="1338.6" r="9.2"/><circle cx="1237.4" cy="1410.6" r="9.2"/><circle cx="1240.6" cy="1354.3" r="9.2"/><circle cx="1243.8" cy="1410.6" r="9.2"/><circle cx="1247.0" cy="1410.6" r="9.2"/><circle cx="1250.2" cy="1459.9" r="9.2"/><circle cx="1253.4" cy="1371.3" r="9.2"/><circle cx="1256.6" cy="1410.6" r="9.2"/><circle cx="1259.8" cy="1354.3" r="9.2"/><circle cx="1263.0" cy="1459.9" r="9.2"/><circle cx="1266.2" cy="1490.1" r="9.2"/><circle cx="1269.4" cy="1354.3" r="9.2"/><circle cx="1272.6" cy="1433.7" r="9.2"/><circle cx="1275.8" cy="1490.1" r="9.2"/><circle cx="1279.0" cy="1354.3" r="9.2"/><circle cx="1282.2" cy="1433.7" r="9.2"/><circle cx="1285.4" cy="1371.3" r="9.2"/><circle cx="1288.6" cy="1525.8" r="9.2"/><circle cx="1291.8" cy="1433.7" r="9.2"/><circle cx="1298.2" cy="1390.0" r="9.2"/><circle cx="1301.4" cy="1390.0" r="9.2"/><circle cx="1304.6" cy="1525.8" r="9.2"/><circle cx="1307.8" cy="1390.0" r="9.2"/><circle cx="1311.0" cy="1338.6" r="9.2"/><circle cx="1317.4" cy="1459.9" r="9.2"/><circle cx="1320.6" cy="1433.7" r="9.2"/><circle cx="1323.8" cy="1525.8" r="9.2"/><circle cx="1327.0" cy="1490.1" r="9.2"/><circle cx="1330.2" cy="1410.6" r="9.2"/><circle cx="1333.4" cy="1433.7" r="9.2"/><circle cx="1336.6" cy="1410.6" r="9.2"/><circle cx="1339.8" cy="1525.8" r="9.2"/><circle cx="1343.0" cy="1433.7" r="9.2"/><circle cx="1346.2" cy="1433.7" r="9.2"/><circle cx="1349.4" cy="1459.9" r="9.2"/><circle cx="1352.6" cy="1390.0" r="9.2"/><circle cx="1355.8" cy="1569.5" r="9.2"/><circle cx="1362.2" cy="1525.8" r="9.2"/><circle cx="1365.4" cy="1490.1" r="9.2"/><circle cx="1368.6" cy="1525.8" r="9.2"/><circle cx="1371.8" cy="1490.1" r="9.2"/><circle cx="1375.0" cy="1569.5" r="9.2"/><circle cx="1378.2" cy="1525.8" r="9.2"/><circle cx="1381.4" cy="1525.8" r="9.2"/><circle cx="1384.6" cy="1490.1" r="9.2"/><circle cx="1387.8" cy="1525.8" r="9.2"/><circle cx="1400.6" cy="1433.7" r="9.2"/><circle cx="1410.2" cy="1490.1" r="9.2"/><circle cx="1413.4" cy="1525.8" r="9.2"/><circle cx="1416.6" cy="1525.8" r="9.2"/><circle cx="1423.0" cy="1525.8" r="9.2"/><circle cx="1426.2" cy="1490.1" r="9.2"/><circle cx="1435.8" cy="1490.1" r="9.2"/><circle cx="1439.0" cy="1569.5" r="9.2"/><circle cx="1445.4" cy="1459.9" r="9.2"/><circle cx="1448.6" cy="1490.1" r="9.2"/><circle cx="1451.8" cy="1433.7" r="9.2"/><circle cx="1461.4" cy="1490.1" r="9.2"/><circle cx="1464.6" cy="1490.1" r="9.2"/><circle cx="1467.8" cy="1433.7" r="9.2"/><circle cx="1471.0" cy="1525.8" r="9.2"/><circle cx="1474.2" cy="1569.5" r="9.2"/><circle cx="1480.6" cy="1490.1" r="9.2"/><circle cx="1483.8" cy="1569.5" r="9.2"/><circle cx="1487.0" cy="1569.5" r="9.2"/><circle cx="1490.2" cy="1459.9" r="9.2"/><circle cx="1506.2" cy="1525.8" r="9.2"/><circle cx="1509.4" cy="1459.9" r="9.2"/><circle cx="1512.6" cy="1569.5" r="9.2"/><circle cx="1522.2" cy="1459.9" r="9.2"/><circle cx="1525.4" cy="1569.5" r="9.2"/><circle cx="1528.6" cy="1525.8" r="9.2"/><circle cx="1531.8" cy="1459.9" r="9.2"/><circle cx="1541.4" cy="1569.5" r="9.2"/><circle cx="1551.0" cy="1569.5" r="9.2"/><circle cx="1560.6" cy="1459.9" r="9.2"/><circle cx="1567.0" cy="1569.5" r="9.2"/><circle cx="1605.4" cy="1569.5" r="9.2"/><circle cx="1608.6" cy="1569.5" r="9.2"/><circle cx="1637.4" cy="1525.8" r="9.2"/><circle cx="1672.6" cy="1569.5" r="9.2"/><circle cx="1682.2" cy="1525.8" r="9.2"/><circle cx="1691.8" cy="1569.5" r="9.2"/><circle cx="1976.6" cy="1569.5" r="9.2"/></g><path d="M251.0 1600.0 L255.0 1400.0 L259.0 1250.0 L262.8 1100.0 L266.2 940.0 L270.0 770.0 L273.0 685.0 L277.0 620.0 L281.0 560.0 L284.0 500.0 L288.0 460.0 L294.0 428.0 L300.0 410.0 L312.0 398.0 L325.0 394.0 L338.0 396.0 L352.0 403.0 L366.5 412.5 L385.8 436.5 L405.0 460.6 L424.0 479.8 L448.0 503.0 L464.4 523.0 L488.5 549.5 L511.0 575.0 L534.8 601.0 L557.8 620.0 L576.0 648.0 L602.0 676.0 L624.6 696.0 L650.0 721.6 L675.6 745.4 L706.5 758.0 L727.4 776.5 L764.0 800.0 L785.0 822.0 L801.0 848.0 L826.0 878.0 L852.0 903.0 L886.0 945.0 L920.0 986.0 L945.6 1020.0 L965.5 1050.0 L993.0 1083.7 L1023.6 1122.0 L1040.0 1145.0 L1051.0 1159.5 L1085.0 1202.0 L1119.0 1241.0 L1153.0 1283.7 L1187.0 1326.0 L1209.9 1360.0 L1226.7 1383.7 L1252.0 1420.7 L1268.7 1444.2 L1285.6 1471.0 L1302.4 1498.0 L1319.2 1525.0 L1336.0 1552.0 L1352.9 1578.8 L1361.3 1594.0 L1366.0 1601.0" fill="none" stroke="#000000" stroke-width="8" stroke-linejoin="round" stroke-linecap="round"/><g fill="#fff" stroke="#ff0000" stroke-width="3.6"><circle cx="248.2" cy="1569.5" r="9.2"/><circle cx="254.6" cy="1390.0" r="9.2"/><circle cx="257.8" cy="1286.1" r="9.2"/><circle cx="260.9" cy="1181.5" r="9.2"/><circle cx="263.4" cy="1174.8" r="9.2"/><circle cx="265.4" cy="998.0" r="9.2"/><circle cx="267.2" cy="943.0" r="9.2"/><circle cx="268.8" cy="858.3" r="9.2"/><circle cx="270.2" cy="812.6" r="9.2"/><circle cx="271.5" cy="751.8" r="9.2"/><circle cx="272.8" cy="699.2" r="9.2"/><circle cx="274.1" cy="689.6" r="9.2"/><circle cx="275.4" cy="670.9" r="9.2"/><circle cx="276.7" cy="640.2" r="9.2"/><circle cx="278.0" cy="624.8" r="9.2"/><circle cx="279.3" cy="620.3" r="9.2"/><circle cx="280.6" cy="604.5" r="9.2"/><circle cx="281.9" cy="593.2" r="9.2"/><circle cx="283.2" cy="571.6" r="9.2"/><circle cx="284.5" cy="549.2" r="9.2"/><circle cx="285.8" cy="531.4" r="9.2"/><circle cx="287.1" cy="509.5" r="9.2"/><circle cx="288.4" cy="494.3" r="9.2"/><circle cx="289.7" cy="480.4" r="9.2"/><circle cx="291.0" cy="474.4" r="9.2"/><circle cx="292.3" cy="464.7" r="9.2"/><circle cx="293.6" cy="459.6" r="9.2"/><circle cx="294.9" cy="452.9" r="9.2"/><circle cx="296.2" cy="449.4" r="9.2"/><circle cx="297.5" cy="434.9" r="9.2"/><circle cx="298.8" cy="434.7" r="9.2"/><circle cx="300.1" cy="425.3" r="9.2"/><circle cx="301.4" cy="421.8" r="9.2"/><circle cx="302.7" cy="415.1" r="9.2"/><circle cx="304.0" cy="416.2" r="9.2"/><circle cx="305.3" cy="413.0" r="9.2"/><circle cx="306.6" cy="411.4" r="9.2"/><circle cx="307.9" cy="407.1" r="9.2"/><circle cx="309.2" cy="402.2" r="9.2"/><circle cx="310.5" cy="399.2" r="9.2"/><circle cx="311.8" cy="398.0" r="9.2"/><circle cx="313.1" cy="394.3" r="9.2"/><circle cx="314.4" cy="397.6" r="9.2"/><circle cx="315.7" cy="396.4" r="9.2"/><circle cx="317.0" cy="399.0" r="9.2"/><circle cx="318.3" cy="392.4" r="9.2"/><circle cx="319.6" cy="392.0" r="9.2"/><circle cx="320.9" cy="394.3" r="9.2"/><circle cx="322.2" cy="389.8" r="9.2"/><circle cx="323.5" cy="390.7" r="9.2"/><circle cx="324.8" cy="393.7" r="9.2"/><circle cx="326.1" cy="390.1" r="9.2"/><circle cx="327.4" cy="391.9" r="9.2"/><circle cx="328.7" cy="395.2" r="9.2"/><circle cx="330.0" cy="388.5" r="9.2"/><circle cx="331.3" cy="395.3" r="9.2"/><circle cx="332.6" cy="395.3" r="9.2"/><circle cx="333.9" cy="395.1" r="9.2"/><circle cx="335.2" cy="396.1" r="9.2"/><circle cx="336.5" cy="398.7" r="9.2"/><circle cx="337.8" cy="398.4" r="9.2"/><circle cx="339.1" cy="394.7" r="9.2"/><circle cx="340.4" cy="401.8" r="9.2"/><circle cx="341.7" cy="399.8" r="9.2"/><circle cx="343.0" cy="400.6" r="9.2"/><circle cx="344.3" cy="400.3" r="9.2"/><circle cx="345.6" cy="404.6" r="9.2"/><circle cx="346.9" cy="406.7" r="9.2"/><circle cx="348.2" cy="411.3" r="9.2"/><circle cx="349.5" cy="412.2" r="9.2"/><circle cx="350.8" cy="412.8" r="9.2"/><circle cx="352.1" cy="414.1" r="9.2"/><circle cx="353.4" cy="420.3" r="9.2"/><circle cx="354.7" cy="423.1" r="9.2"/><circle cx="356.0" cy="420.8" r="9.2"/><circle cx="357.3" cy="424.7" r="9.2"/><circle cx="358.6" cy="430.7" r="9.2"/><circle cx="359.9" cy="429.2" r="9.2"/><circle cx="361.2" cy="425.2" r="9.2"/><circle cx="362.5" cy="434.0" r="9.2"/><circle cx="363.8" cy="434.3" r="9.2"/><circle cx="365.1" cy="442.2" r="9.2"/><circle cx="366.4" cy="443.7" r="9.2"/><circle cx="367.7" cy="442.2" r="9.2"/><circle cx="369.0" cy="441.8" r="9.2"/><circle cx="370.3" cy="448.0" r="9.2"/><circle cx="371.6" cy="448.0" r="9.2"/><circle cx="372.9" cy="453.2" r="9.2"/><circle cx="374.2" cy="458.0" r="9.2"/><circle cx="375.5" cy="453.9" r="9.2"/><circle cx="376.8" cy="456.0" r="9.2"/><circle cx="378.1" cy="461.3" r="9.2"/><circle cx="379.4" cy="468.3" r="9.2"/><circle cx="380.7" cy="466.0" r="9.2"/><circle cx="382.0" cy="463.4" r="9.2"/><circle cx="383.3" cy="477.0" r="9.2"/><circle cx="384.6" cy="474.5" r="9.2"/><circle cx="385.9" cy="476.6" r="9.2"/><circle cx="387.2" cy="473.7" r="9.2"/><circle cx="388.5" cy="486.3" r="9.2"/><circle cx="389.8" cy="481.9" r="9.2"/><circle cx="391.1" cy="490.7" r="9.2"/><circle cx="392.4" cy="494.7" r="9.2"/><circle cx="393.7" cy="491.3" r="9.2"/><circle cx="395.0" cy="492.1" r="9.2"/><circle cx="396.3" cy="493.0" r="9.2"/><circle cx="397.6" cy="500.0" r="9.2"/><circle cx="398.9" cy="497.6" r="9.2"/><circle cx="400.2" cy="505.7" r="9.2"/><circle cx="401.5" cy="515.7" r="9.2"/><circle cx="402.8" cy="514.4" r="9.2"/><circle cx="404.1" cy="518.2" r="9.2"/><circle cx="405.4" cy="520.5" r="9.2"/><circle cx="406.7" cy="525.0" r="9.2"/><circle cx="408.0" cy="535.9" r="9.2"/><circle cx="409.3" cy="530.3" r="9.2"/><circle cx="410.6" cy="537.2" r="9.2"/><circle cx="411.9" cy="529.0" r="9.2"/><circle cx="413.2" cy="539.7" r="9.2"/><circle cx="414.5" cy="552.9" r="9.2"/><circle cx="415.8" cy="555.6" r="9.2"/><circle cx="417.1" cy="559.7" r="9.2"/><circle cx="418.4" cy="559.6" r="9.2"/><circle cx="419.7" cy="553.8" r="9.2"/><circle cx="421.0" cy="560.4" r="9.2"/><circle cx="422.3" cy="555.2" r="9.2"/><circle cx="423.6" cy="568.5" r="9.2"/><circle cx="424.9" cy="560.2" r="9.2"/><circle cx="426.2" cy="566.0" r="9.2"/><circle cx="427.5" cy="573.9" r="9.2"/><circle cx="428.8" cy="572.5" r="9.2"/><circle cx="430.1" cy="574.8" r="9.2"/><circle cx="431.4" cy="574.0" r="9.2"/><circle cx="432.7" cy="572.8" r="9.2"/><circle cx="434.0" cy="586.0" r="9.2"/><circle cx="435.3" cy="586.0" r="9.2"/><circle cx="436.6" cy="586.5" r="9.2"/><circle cx="437.9" cy="588.5" r="9.2"/><circle cx="439.2" cy="594.2" r="9.2"/><circle cx="440.5" cy="593.8" r="9.2"/><circle cx="441.8" cy="595.5" r="9.2"/><circle cx="443.1" cy="603.1" r="9.2"/><circle cx="444.4" cy="604.1" r="9.2"/><circle cx="445.7" cy="599.5" r="9.2"/><circle cx="447.0" cy="596.4" r="9.2"/><circle cx="448.3" cy="610.6" r="9.2"/><circle cx="449.6" cy="610.7" r="9.2"/><circle cx="450.9" cy="623.9" r="9.2"/><circle cx="452.2" cy="615.0" r="9.2"/><circle cx="453.5" cy="623.2" r="9.2"/><circle cx="454.8" cy="622.7" r="9.2"/><circle cx="456.1" cy="628.3" r="9.2"/><circle cx="457.4" cy="631.0" r="9.2"/><circle cx="458.7" cy="634.6" r="9.2"/><circle cx="460.0" cy="630.9" r="9.2"/><circle cx="461.3" cy="636.7" r="9.2"/><circle cx="462.6" cy="643.4" r="9.2"/><circle cx="463.9" cy="655.9" r="9.2"/><circle cx="465.2" cy="636.1" r="9.2"/><circle cx="466.5" cy="643.5" r="9.2"/><circle cx="467.8" cy="640.4" r="9.2"/><circle cx="469.1" cy="646.2" r="9.2"/><circle cx="470.4" cy="650.6" r="9.2"/><circle cx="471.7" cy="658.0" r="9.2"/><circle cx="473.0" cy="653.7" r="9.2"/><circle cx="474.3" cy="647.8" r="9.2"/><circle cx="475.6" cy="655.1" r="9.2"/><circle cx="476.9" cy="664.9" r="9.2"/><circle cx="478.2" cy="662.3" r="9.2"/><circle cx="479.5" cy="661.1" r="9.2"/><circle cx="480.8" cy="673.5" r="9.2"/><circle cx="482.1" cy="665.0" r="9.2"/><circle cx="483.4" cy="656.1" r="9.2"/><circle cx="484.7" cy="676.7" r="9.2"/><circle cx="486.0" cy="660.0" r="9.2"/><circle cx="487.3" cy="668.4" r="9.2"/><circle cx="488.6" cy="679.1" r="9.2"/><circle cx="489.9" cy="665.3" r="9.2"/><circle cx="491.2" cy="689.5" r="9.2"/><circle cx="492.5" cy="685.2" r="9.2"/><circle cx="493.8" cy="665.2" r="9.2"/><circle cx="495.1" cy="681.0" r="9.2"/><circle cx="496.4" cy="684.3" r="9.2"/><circle cx="497.7" cy="697.6" r="9.2"/><circle cx="499.0" cy="686.5" r="9.2"/><circle cx="500.3" cy="684.0" r="9.2"/><circle cx="501.6" cy="711.6" r="9.2"/><circle cx="502.9" cy="701.9" r="9.2"/><circle cx="504.2" cy="705.2" r="9.2"/><circle cx="505.5" cy="697.8" r="9.2"/><circle cx="506.8" cy="717.3" r="9.2"/><circle cx="508.1" cy="709.0" r="9.2"/><circle cx="509.4" cy="700.4" r="9.2"/><circle cx="510.7" cy="712.8" r="9.2"/><circle cx="512.0" cy="700.7" r="9.2"/><circle cx="513.3" cy="730.9" r="9.2"/><circle cx="514.6" cy="716.5" r="9.2"/><circle cx="515.9" cy="715.9" r="9.2"/><circle cx="517.2" cy="730.0" r="9.2"/><circle cx="518.5" cy="720.1" r="9.2"/><circle cx="519.8" cy="745.1" r="9.2"/><circle cx="521.1" cy="735.6" r="9.2"/><circle cx="522.4" cy="738.3" r="9.2"/><circle cx="523.7" cy="734.0" r="9.2"/><circle cx="525.0" cy="730.4" r="9.2"/><circle cx="526.3" cy="739.3" r="9.2"/><circle cx="527.6" cy="728.2" r="9.2"/><circle cx="528.9" cy="744.8" r="9.2"/><circle cx="530.2" cy="747.0" r="9.2"/><circle cx="531.5" cy="746.7" r="9.2"/><circle cx="532.8" cy="743.3" r="9.2"/><circle cx="534.1" cy="747.9" r="9.2"/><circle cx="535.4" cy="766.7" r="9.2"/><circle cx="536.7" cy="739.1" r="9.2"/><circle cx="538.0" cy="751.2" r="9.2"/><circle cx="539.3" cy="756.7" r="9.2"/><circle cx="540.6" cy="760.4" r="9.2"/><circle cx="541.9" cy="780.8" r="9.2"/><circle cx="543.2" cy="756.1" r="9.2"/><circle cx="544.5" cy="755.7" r="9.2"/><circle cx="545.8" cy="764.1" r="9.2"/><circle cx="547.1" cy="781.2" r="9.2"/><circle cx="548.4" cy="794.3" r="9.2"/><circle cx="549.7" cy="797.1" r="9.2"/><circle cx="551.0" cy="764.2" r="9.2"/><circle cx="552.3" cy="794.4" r="9.2"/><circle cx="553.6" cy="778.6" r="9.2"/><circle cx="554.9" cy="793.3" r="9.2"/><circle cx="556.2" cy="769.2" r="9.2"/><circle cx="557.5" cy="786.3" r="9.2"/><circle cx="558.8" cy="798.2" r="9.2"/><circle cx="560.1" cy="790.8" r="9.2"/><circle cx="561.4" cy="796.9" r="9.2"/><circle cx="562.7" cy="798.9" r="9.2"/><circle cx="564.0" cy="776.0" r="9.2"/><circle cx="565.3" cy="801.9" r="9.2"/><circle cx="566.6" cy="813.1" r="9.2"/><circle cx="567.9" cy="807.7" r="9.2"/><circle cx="569.2" cy="815.4" r="9.2"/><circle cx="570.5" cy="809.9" r="9.2"/><circle cx="571.8" cy="780.4" r="9.2"/><circle cx="573.2" cy="824.9" r="9.2"/><circle cx="574.5" cy="835.5" r="9.2"/><circle cx="575.8" cy="818.2" r="9.2"/><circle cx="577.1" cy="794.9" r="9.2"/><circle cx="578.4" cy="813.5" r="9.2"/><circle cx="579.8" cy="858.2" r="9.2"/><circle cx="581.1" cy="819.6" r="9.2"/><circle cx="582.4" cy="824.8" r="9.2"/><circle cx="583.8" cy="836.7" r="9.2"/><circle cx="585.1" cy="842.4" r="9.2"/><circle cx="586.5" cy="836.9" r="9.2"/><circle cx="587.8" cy="813.9" r="9.2"/><circle cx="589.2" cy="827.3" r="9.2"/><circle cx="590.5" cy="835.0" r="9.2"/><circle cx="591.9" cy="820.1" r="9.2"/><circle cx="593.3" cy="836.2" r="9.2"/><circle cx="594.6" cy="837.4" r="9.2"/><circle cx="596.0" cy="849.1" r="9.2"/><circle cx="597.4" cy="848.0" r="9.2"/><circle cx="598.8" cy="843.3" r="9.2"/><circle cx="600.2" cy="851.8" r="9.2"/><circle cx="601.6" cy="871.3" r="9.2"/><circle cx="603.0" cy="835.3" r="9.2"/><circle cx="604.4" cy="834.1" r="9.2"/><circle cx="605.8" cy="868.8" r="9.2"/><circle cx="607.2" cy="873.0" r="9.2"/><circle cx="608.6" cy="843.4" r="9.2"/><circle cx="610.0" cy="864.9" r="9.2"/><circle cx="611.5" cy="850.6" r="9.2"/><circle cx="612.9" cy="863.5" r="9.2"/><circle cx="614.3" cy="862.2" r="9.2"/><circle cx="615.7" cy="859.6" r="9.2"/><circle cx="617.2" cy="845.7" r="9.2"/><circle cx="618.6" cy="840.9" r="9.2"/><circle cx="620.1" cy="860.9" r="9.2"/><circle cx="621.5" cy="886.1" r="9.2"/><circle cx="623.0" cy="843.3" r="9.2"/><circle cx="624.4" cy="889.1" r="9.2"/><circle cx="625.9" cy="866.2" r="9.2"/><circle cx="627.4" cy="860.9" r="9.2"/><circle cx="628.9" cy="862.2" r="9.2"/><circle cx="630.3" cy="895.3" r="9.2"/><circle cx="631.8" cy="916.8" r="9.2"/><circle cx="633.3" cy="875.9" r="9.2"/><circle cx="634.8" cy="943.0" r="9.2"/><circle cx="636.3" cy="868.9" r="9.2"/><circle cx="637.8" cy="901.7" r="9.2"/><circle cx="639.3" cy="903.3" r="9.2"/><circle cx="640.8" cy="901.7" r="9.2"/><circle cx="642.3" cy="901.7" r="9.2"/><circle cx="643.8" cy="931.3" r="9.2"/><circle cx="645.3" cy="877.3" r="9.2"/><circle cx="646.8" cy="890.6" r="9.2"/><circle cx="648.3" cy="908.2" r="9.2"/><circle cx="649.8" cy="889.1" r="9.2"/><circle cx="651.3" cy="927.6" r="9.2"/><circle cx="652.9" cy="893.7" r="9.2"/><circle cx="654.4" cy="887.6" r="9.2"/><circle cx="655.9" cy="915.1" r="9.2"/><circle cx="657.4" cy="935.1" r="9.2"/><circle cx="659.0" cy="935.1" r="9.2"/><circle cx="660.5" cy="901.7" r="9.2"/><circle cx="662.0" cy="945.0" r="9.2"/><circle cx="663.6" cy="895.3" r="9.2"/><circle cx="665.1" cy="904.9" r="9.2"/><circle cx="666.6" cy="887.6" r="9.2"/><circle cx="668.2" cy="901.7" r="9.2"/><circle cx="669.7" cy="925.7" r="9.2"/><circle cx="671.3" cy="901.7" r="9.2"/><circle cx="672.8" cy="913.3" r="9.2"/><circle cx="674.3" cy="878.8" r="9.2"/><circle cx="675.9" cy="880.2" r="9.2"/><circle cx="677.4" cy="883.1" r="9.2"/><circle cx="678.9" cy="987.7" r="9.2"/><circle cx="680.5" cy="916.8" r="9.2"/><circle cx="682.0" cy="890.6" r="9.2"/><circle cx="683.5" cy="884.6" r="9.2"/><circle cx="685.0" cy="913.3" r="9.2"/><circle cx="686.6" cy="906.6" r="9.2"/><circle cx="688.1" cy="859.6" r="9.2"/><circle cx="689.6" cy="922.1" r="9.2"/><circle cx="691.1" cy="892.2" r="9.2"/><circle cx="692.7" cy="893.7" r="9.2"/><circle cx="694.2" cy="883.1" r="9.2"/><circle cx="695.7" cy="903.3" r="9.2"/><circle cx="697.2" cy="878.8" r="9.2"/><circle cx="698.7" cy="935.1" r="9.2"/><circle cx="700.3" cy="864.9" r="9.2"/><circle cx="701.8" cy="913.3" r="9.2"/><circle cx="703.3" cy="889.1" r="9.2"/><circle cx="704.8" cy="955.3" r="9.2"/><circle cx="706.3" cy="884.6" r="9.2"/><circle cx="707.8" cy="918.6" r="9.2"/><circle cx="709.4" cy="925.7" r="9.2"/><circle cx="710.9" cy="893.7" r="9.2"/><circle cx="712.4" cy="900.1" r="9.2"/><circle cx="713.9" cy="887.6" r="9.2"/><circle cx="715.4" cy="877.3" r="9.2"/><circle cx="717.0" cy="873.1" r="9.2"/><circle cx="718.5" cy="959.6" r="9.2"/><circle cx="720.0" cy="913.3" r="9.2"/><circle cx="721.5" cy="929.4" r="9.2"/><circle cx="723.0" cy="916.8" r="9.2"/><circle cx="724.5" cy="890.6" r="9.2"/><circle cx="726.1" cy="883.1" r="9.2"/><circle cx="727.6" cy="893.7" r="9.2"/><circle cx="729.1" cy="929.4" r="9.2"/><circle cx="730.6" cy="898.5" r="9.2"/><circle cx="732.2" cy="927.6" r="9.2"/><circle cx="733.7" cy="957.5" r="9.2"/><circle cx="735.2" cy="927.6" r="9.2"/><circle cx="736.8" cy="937.1" r="9.2"/><circle cx="738.3" cy="901.7" r="9.2"/><circle cx="739.9" cy="883.1" r="9.2"/><circle cx="741.4" cy="925.7" r="9.2"/><circle cx="742.9" cy="901.7" r="9.2"/><circle cx="744.5" cy="927.6" r="9.2"/><circle cx="746.1" cy="922.1" r="9.2"/><circle cx="747.6" cy="911.6" r="9.2"/><circle cx="749.2" cy="918.6" r="9.2"/><circle cx="750.7" cy="916.8" r="9.2"/><circle cx="752.3" cy="909.9" r="9.2"/><circle cx="753.9" cy="937.1" r="9.2"/><circle cx="755.5" cy="925.7" r="9.2"/><circle cx="757.1" cy="925.7" r="9.2"/><circle cx="758.7" cy="915.1" r="9.2"/><circle cx="760.3" cy="966.3" r="9.2"/><circle cx="761.9" cy="935.1" r="9.2"/><circle cx="763.5" cy="903.3" r="9.2"/><circle cx="765.1" cy="947.0" r="9.2"/><circle cx="766.7" cy="935.1" r="9.2"/><circle cx="768.4" cy="973.2" r="9.2"/><circle cx="770.0" cy="929.4" r="9.2"/><circle cx="771.6" cy="961.8" r="9.2"/><circle cx="773.3" cy="973.2" r="9.2"/><circle cx="774.9" cy="1014.5" r="9.2"/><circle cx="776.6" cy="945.0" r="9.2"/><circle cx="778.2" cy="968.5" r="9.2"/><circle cx="779.9" cy="1000.6" r="9.2"/><circle cx="781.6" cy="929.4" r="9.2"/><circle cx="783.3" cy="990.2" r="9.2"/><circle cx="784.9" cy="987.7" r="9.2"/><circle cx="786.6" cy="1011.7" r="9.2"/><circle cx="788.3" cy="959.6" r="9.2"/><circle cx="790.0" cy="977.9" r="9.2"/><circle cx="791.7" cy="977.9" r="9.2"/><circle cx="793.4" cy="987.7" r="9.2"/><circle cx="795.1" cy="973.2" r="9.2"/><circle cx="796.9" cy="1008.9" r="9.2"/><circle cx="798.6" cy="987.7" r="9.2"/><circle cx="800.3" cy="995.3" r="9.2"/><circle cx="802.0" cy="1014.5" r="9.2"/><circle cx="803.8" cy="1014.5" r="9.2"/><circle cx="805.5" cy="1029.5" r="9.2"/><circle cx="807.3" cy="970.8" r="9.2"/><circle cx="809.0" cy="977.9" r="9.2"/><circle cx="810.8" cy="1067.1" r="9.2"/><circle cx="812.6" cy="1035.8" r="9.2"/><circle cx="814.3" cy="977.9" r="9.2"/><circle cx="816.1" cy="1023.4" r="9.2"/><circle cx="817.9" cy="1032.6" r="9.2"/><circle cx="819.7" cy="1042.3" r="9.2"/><circle cx="821.5" cy="1020.4" r="9.2"/><circle cx="823.3" cy="1026.4" r="9.2"/><circle cx="825.1" cy="1049.1" r="9.2"/><circle cx="826.9" cy="1029.5" r="9.2"/><circle cx="828.7" cy="1063.4" r="9.2"/><circle cx="830.5" cy="1035.8" r="9.2"/><circle cx="832.4" cy="987.7" r="9.2"/><circle cx="834.2" cy="1045.7" r="9.2"/><circle cx="836.0" cy="1052.6" r="9.2"/><circle cx="837.9" cy="1078.7" r="9.2"/><circle cx="839.7" cy="1059.7" r="9.2"/><circle cx="841.6" cy="1011.7" r="9.2"/><circle cx="843.5" cy="1070.9" r="9.2"/><circle cx="845.4" cy="1059.7" r="9.2"/><circle cx="847.3" cy="1032.6" r="9.2"/><circle cx="849.1" cy="1091.1" r="9.2"/><circle cx="851.0" cy="1113.6" r="9.2"/><circle cx="853.0" cy="1049.1" r="9.2"/><circle cx="854.9" cy="1139.1" r="9.2"/><circle cx="856.8" cy="1104.3" r="9.2"/><circle cx="858.7" cy="1091.1" r="9.2"/><circle cx="860.7" cy="1095.4" r="9.2"/><circle cx="862.6" cy="1104.3" r="9.2"/><circle cx="864.5" cy="1086.9" r="9.2"/><circle cx="866.5" cy="1118.5" r="9.2"/><circle cx="868.5" cy="1118.5" r="9.2"/><circle cx="870.4" cy="1113.6" r="9.2"/><circle cx="872.4" cy="1091.1" r="9.2"/><circle cx="874.4" cy="1150.3" r="9.2"/><circle cx="876.4" cy="1099.8" r="9.2"/><circle cx="878.4" cy="1118.5" r="9.2"/><circle cx="880.4" cy="1113.6" r="9.2"/><circle cx="882.5" cy="1156.2" r="9.2"/><circle cx="884.5" cy="1264.3" r="9.2"/><circle cx="886.6" cy="1174.8" r="9.2"/><circle cx="888.8" cy="1156.2" r="9.2"/><circle cx="890.9" cy="1174.8" r="9.2"/><circle cx="893.1" cy="1123.4" r="9.2"/><circle cx="895.2" cy="1195.5" r="9.2"/><circle cx="897.4" cy="1118.5" r="9.2"/><circle cx="899.7" cy="1139.1" r="9.2"/><circle cx="901.9" cy="1133.7" r="9.2"/><circle cx="904.2" cy="1210.5" r="9.2"/><circle cx="906.4" cy="1104.3" r="9.2"/><circle cx="908.7" cy="1174.8" r="9.2"/><circle cx="911.1" cy="1202.8" r="9.2"/><circle cx="913.4" cy="1244.7" r="9.2"/><circle cx="915.7" cy="1202.8" r="9.2"/><circle cx="918.1" cy="1174.8" r="9.2"/><circle cx="920.5" cy="1188.3" r="9.2"/><circle cx="922.9" cy="1254.2" r="9.2"/><circle cx="925.4" cy="1168.4" r="9.2"/><circle cx="927.8" cy="1202.8" r="9.2"/><circle cx="930.3" cy="1181.5" r="9.2"/><circle cx="932.8" cy="1188.3" r="9.2"/><circle cx="935.3" cy="1168.4" r="9.2"/><circle cx="937.9" cy="1264.3" r="9.2"/><circle cx="940.4" cy="1235.6" r="9.2"/><circle cx="943.0" cy="1264.3" r="9.2"/><circle cx="945.6" cy="1168.4" r="9.2"/><circle cx="948.2" cy="1244.7" r="9.2"/><circle cx="950.8" cy="1195.5" r="9.2"/><circle cx="953.4" cy="1254.2" r="9.2"/><circle cx="956.0" cy="1235.6" r="9.2"/><circle cx="958.7" cy="1210.5" r="9.2"/><circle cx="961.3" cy="1195.5" r="9.2"/><circle cx="966.6" cy="1244.7" r="9.2"/><circle cx="969.3" cy="1264.3" r="9.2"/><circle cx="972.0" cy="1371.3" r="9.2"/><circle cx="974.7" cy="1188.3" r="9.2"/><circle cx="977.5" cy="1338.6" r="9.2"/><circle cx="980.2" cy="1264.3" r="9.2"/><circle cx="983.0" cy="1274.9" r="9.2"/><circle cx="985.8" cy="1235.6" r="9.2"/><circle cx="988.6" cy="1297.9" r="9.2"/><circle cx="991.4" cy="1264.3" r="9.2"/><circle cx="994.2" cy="1297.9" r="9.2"/><circle cx="1000.0" cy="1226.9" r="9.2"/><circle cx="1002.9" cy="1297.9" r="9.2"/><circle cx="1005.8" cy="1286.1" r="9.2"/><circle cx="1008.7" cy="1324.1" r="9.2"/><circle cx="1011.6" cy="1286.1" r="9.2"/><circle cx="1014.6" cy="1338.6" r="9.2"/><circle cx="1017.5" cy="1286.1" r="9.2"/><circle cx="1020.5" cy="1274.9" r="9.2"/><circle cx="1023.5" cy="1390.0" r="9.2"/><circle cx="1026.5" cy="1264.3" r="9.2"/><circle cx="1029.5" cy="1390.0" r="9.2"/><circle cx="1032.6" cy="1286.1" r="9.2"/><circle cx="1035.7" cy="1310.6" r="9.2"/><circle cx="1038.7" cy="1390.0" r="9.2"/><circle cx="1041.8" cy="1297.9" r="9.2"/><circle cx="1044.9" cy="1459.9" r="9.2"/><circle cx="1048.1" cy="1264.3" r="9.2"/><circle cx="1051.2" cy="1410.6" r="9.2"/><circle cx="1054.4" cy="1324.1" r="9.2"/><circle cx="1057.6" cy="1410.6" r="9.2"/><circle cx="1060.8" cy="1371.3" r="9.2"/><circle cx="1064.0" cy="1274.9" r="9.2"/><circle cx="1067.2" cy="1286.1" r="9.2"/><circle cx="1070.4" cy="1354.3" r="9.2"/><circle cx="1073.6" cy="1459.9" r="9.2"/><circle cx="1076.8" cy="1371.3" r="9.2"/><circle cx="1080.0" cy="1324.1" r="9.2"/><circle cx="1083.2" cy="1525.8" r="9.2"/><circle cx="1086.4" cy="1433.7" r="9.2"/><circle cx="1089.6" cy="1338.6" r="9.2"/><circle cx="1092.8" cy="1371.3" r="9.2"/><circle cx="1096.0" cy="1525.8" r="9.2"/><circle cx="1099.2" cy="1433.7" r="9.2"/><circle cx="1102.4" cy="1569.5" r="9.2"/><circle cx="1105.6" cy="1338.6" r="9.2"/><circle cx="1108.8" cy="1390.0" r="9.2"/><circle cx="1112.0" cy="1371.3" r="9.2"/><circle cx="1115.2" cy="1525.8" r="9.2"/><circle cx="1118.4" cy="1459.9" r="9.2"/><circle cx="1121.6" cy="1410.6" r="9.2"/><circle cx="1124.8" cy="1459.9" r="9.2"/><circle cx="1128.0" cy="1410.6" r="9.2"/><circle cx="1131.2" cy="1490.1" r="9.2"/><circle cx="1134.4" cy="1490.1" r="9.2"/><circle cx="1137.6" cy="1490.1" r="9.2"/><circle cx="1140.8" cy="1569.5" r="9.2"/><circle cx="1144.0" cy="1569.5" r="9.2"/><circle cx="1147.2" cy="1354.3" r="9.2"/><circle cx="1150.4" cy="1433.7" r="9.2"/><circle cx="1153.6" cy="1433.7" r="9.2"/><circle cx="1156.8" cy="1490.1" r="9.2"/><circle cx="1160.0" cy="1525.8" r="9.2"/><circle cx="1163.2" cy="1459.9" r="9.2"/><circle cx="1166.4" cy="1490.1" r="9.2"/><circle cx="1172.8" cy="1390.0" r="9.2"/><circle cx="1176.0" cy="1410.6" r="9.2"/><circle cx="1179.2" cy="1410.6" r="9.2"/><circle cx="1182.4" cy="1338.6" r="9.2"/><circle cx="1198.4" cy="1569.5" r="9.2"/><circle cx="1201.6" cy="1410.6" r="9.2"/><circle cx="1204.8" cy="1490.1" r="9.2"/><circle cx="1208.0" cy="1490.1" r="9.2"/><circle cx="1217.6" cy="1490.1" r="9.2"/><circle cx="1220.8" cy="1459.9" r="9.2"/><circle cx="1224.0" cy="1525.8" r="9.2"/><circle cx="1227.2" cy="1433.7" r="9.2"/><circle cx="1230.4" cy="1459.9" r="9.2"/><circle cx="1233.6" cy="1525.8" r="9.2"/><circle cx="1240.0" cy="1525.8" r="9.2"/><circle cx="1246.4" cy="1525.8" r="9.2"/><circle cx="1259.2" cy="1390.0" r="9.2"/><circle cx="1265.6" cy="1433.7" r="9.2"/><circle cx="1268.8" cy="1569.5" r="9.2"/><circle cx="1272.0" cy="1459.9" r="9.2"/><circle cx="1281.6" cy="1490.1" r="9.2"/><circle cx="1288.0" cy="1525.8" r="9.2"/><circle cx="1307.2" cy="1569.5" r="9.2"/><circle cx="1310.4" cy="1525.8" r="9.2"/><circle cx="1313.6" cy="1569.5" r="9.2"/><circle cx="1326.4" cy="1525.8" r="9.2"/><circle cx="1329.6" cy="1410.6" r="9.2"/><circle cx="1332.8" cy="1569.5" r="9.2"/><circle cx="1339.2" cy="1490.1" r="9.2"/><circle cx="1342.4" cy="1569.5" r="9.2"/><circle cx="1355.2" cy="1569.5" r="9.2"/><circle cx="1364.8" cy="1569.5" r="9.2"/><circle cx="1368.0" cy="1525.8" r="9.2"/><circle cx="1371.2" cy="1525.8" r="9.2"/><circle cx="1374.4" cy="1569.5" r="9.2"/><circle cx="1380.8" cy="1569.5" r="9.2"/><circle cx="1387.2" cy="1569.5" r="9.2"/><circle cx="1396.8" cy="1525.8" r="9.2"/><circle cx="1403.2" cy="1490.1" r="9.2"/><circle cx="1438.4" cy="1569.5" r="9.2"/><circle cx="1444.8" cy="1569.5" r="9.2"/><circle cx="1457.6" cy="1569.5" r="9.2"/><circle cx="1470.4" cy="1525.8" r="9.2"/><circle cx="1483.2" cy="1569.5" r="9.2"/><circle cx="1524.8" cy="1569.5" r="9.2"/><circle cx="1896.0" cy="1490.1" r="9.2"/><circle cx="1976.0" cy="1569.5" r="9.2"/><circle cx="1985.6" cy="1569.5" r="9.2"/><circle cx="2001.6" cy="1569.5" r="9.2"/></g><path d="M252.0 1600.0 L256.0 1400.0 L260.0 1250.0 L263.8 1100.0 L267.2 940.0 L271.0 770.0 L274.3 685.0 L279.0 620.0 L283.0 570.0 L287.0 510.0 L290.0 480.0 L295.0 450.0 L300.0 425.0 L309.0 403.0 L316.0 396.0 L323.0 392.5 L333.0 394.5 L345.0 403.0 L357.0 425.0 L368.0 443.0 L376.0 456.0 L390.6 484.6 L415.7 546.7 L439.5 594.0 L463.0 637.0 L488.0 675.0 L514.0 720.0 L539.5 759.0 L556.5 784.6 L573.5 810.0 L599.0 844.0 L624.6 878.0 L650.0 903.6 L667.0 916.0 L696.0 916.0 L721.6 918.0 L738.6 928.0 L755.6 945.0 L777.0 972.0 L800.0 1002.0 L826.5 1039.0 L844.6 1070.0 L863.0 1100.5 L878.0 1126.5 L890.5 1154.0 L904.3 1177.0 L919.6 1203.0 L935.0 1227.5 L947.0 1241.0 L962.4 1252.0 L977.7 1268.8 L993.0 1288.7 L1008.3 1310.0 L1017.0 1319.0 L1034.0 1341.5 L1051.0 1366.0 L1066.8 1387.0 L1083.7 1414.0 L1100.5 1444.0 L1117.3 1471.0 L1134.0 1501.4 L1151.0 1528.4 L1167.8 1555.0 L1184.6 1589.0 L1190.0 1597.0 L1215.0 1600.0" fill="none" stroke="#ff0000" stroke-width="8" stroke-linejoin="round" stroke-linecap="round"/></g><rect x="182.5" y="34.5" width="1925.0" height="1561.0" fill="none" stroke="#000" stroke-width="6.5"/><g font-family="'Liberation Sans', Arial, Helvetica, sans-serif" font-weight="bold" fill="#231f20"><text x="229" y="132.7" font-size="68.3" textLength="516" lengthAdjust="spacingAndGlyphs">ZnO nanowires</text><text x="229" y="225.3" font-size="73.9" textLength="422" lengthAdjust="spacingAndGlyphs">4 K - 0.5 mW</text><text x="231" y="316.5" font-size="73.9">E</text><text x="355" y="316.5" font-size="73.9" textLength="343" lengthAdjust="spacingAndGlyphs">= 3.365 eV</text></g><text x="277" y="345.6" font-size="44" font-family="'Liberation Sans', Arial, Helvetica, sans-serif" fill="#231f20">DX</text><text x="284" y="1376.2" font-size="69" font-family="'Liberation Sans', Arial, Helvetica, sans-serif" fill="#ff0000" textLength="663" lengthAdjust="spacingAndGlyphs">(A) d=70 nm &amp; <tspan font-family="'Liberation Serif', 'Times New Roman', serif">τ</tspan>=67ps</text><text x="284" y="1463.3" font-size="69" font-family="'Liberation Sans', Arial, Helvetica, sans-serif" fill="#231f20" textLength="719" lengthAdjust="spacingAndGlyphs">(B) d=<tspan font-family="NanumGothic, 'Liberation Sans', sans-serif" stroke="#231f20" stroke-width="1.1">1</tspan><tspan font-family="NanumGothic, 'Liberation Sans', sans-serif" stroke="#231f20" stroke-width="1.1">1</tspan>0 nm &amp; <tspan font-family="'Liberation Serif', 'Times New Roman', serif">τ</tspan>=98 ps</text><text x="284" y="1548.5" font-size="69" font-family="'Liberation Sans', Arial, Helvetica, sans-serif" fill="#0000ff" textLength="759" lengthAdjust="spacingAndGlyphs">(C) d=<tspan font-family="NanumGothic, 'Liberation Sans', sans-serif" stroke="#0000ff" stroke-width="1.1">1</tspan>70 nm &amp; <tspan font-family="'Liberation Serif', 'Times New Roman', serif">τ</tspan>=200 ps</text><text x="182.5" y="1687" font-size="75.5" text-anchor="middle" font-family="'Liberation Sans', Arial, Helvetica, sans-serif" fill="#231f20">0.0</text><text x="663.8" y="1687" font-size="75.5" text-anchor="middle" font-family="'Liberation Sans', Arial, Helvetica, sans-serif" fill="#231f20">0.5</text><text x="1145.0" y="1687" font-size="75.5" text-anchor="middle" font-family="'Liberation Sans', Arial, Helvetica, sans-serif" fill="#231f20"><tspan font-family="NanumGothic, 'Liberation Sans', sans-serif" stroke="#231f20" stroke-width="1.1">1</tspan>.0</text><text x="1626.2" y="1687" font-size="75.5" text-anchor="middle" font-family="'Liberation Sans', Arial, Helvetica, sans-serif" fill="#231f20"><tspan font-family="NanumGothic, 'Liberation Sans', sans-serif" stroke="#231f20" stroke-width="1.1">1</tspan>.5</text><text x="2107.5" y="1687" font-size="75.5" text-anchor="middle" font-family="'Liberation Sans', Arial, Helvetica, sans-serif" fill="#231f20">2.0</text><text x="1145" y="1801.5" font-size="83" text-anchor="middle" font-family="'Liberation Sans', Arial, Helvetica, sans-serif" fill="#231f20">Time (ns)</text><text transform="translate(82.3 834.5) rotate(-90)" x="0" y="0" font-size="80" text-anchor="middle" textLength="723" lengthAdjust="spacingAndGlyphs" font-family="'Liberation Sans', Arial, Helvetica, sans-serif" fill="#231f20">Intensity (arb. units)</text></svg></body></html>
